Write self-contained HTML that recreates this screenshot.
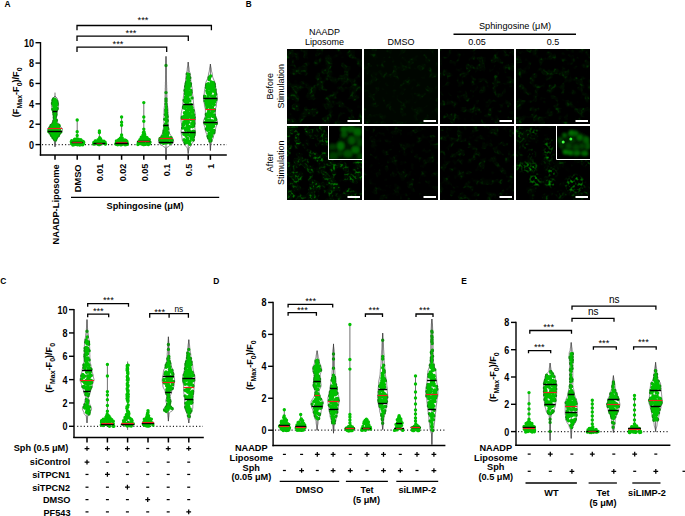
<!DOCTYPE html><html><head><meta charset="utf-8"><style>html,body{margin:0;padding:0;background:#fff;overflow:hidden}svg{display:block}text{font-family:"Liberation Sans",sans-serif}</style></head><body>
<svg width="685" height="516" viewBox="0 0 685 516" font-family="Liberation Sans">
<text transform="translate(4.6 6.9) scale(1 1.04)" font-size="8.4" font-weight="bold" text-anchor="start" fill="#000">A</text>
<line x1="40.5" y1="42.05" x2="40.5" y2="155.65" stroke="#000" stroke-width="1.4"/>
<line x1="35.5" y1="144.6" x2="40.5" y2="144.6" stroke="#000" stroke-width="1.4"/>
<text transform="translate(33.9 148.5) scale(1 1.17)" font-size="9" font-weight="bold" text-anchor="end" fill="#000">0</text>
<line x1="35.5" y1="124.22" x2="40.5" y2="124.22" stroke="#000" stroke-width="1.4"/>
<text transform="translate(33.9 128.12) scale(1 1.17)" font-size="9" font-weight="bold" text-anchor="end" fill="#000">2</text>
<line x1="35.5" y1="103.84" x2="40.5" y2="103.84" stroke="#000" stroke-width="1.4"/>
<text transform="translate(33.9 107.74) scale(1 1.17)" font-size="9" font-weight="bold" text-anchor="end" fill="#000">4</text>
<line x1="35.5" y1="83.46" x2="40.5" y2="83.46" stroke="#000" stroke-width="1.4"/>
<text transform="translate(33.9 87.36) scale(1 1.17)" font-size="9" font-weight="bold" text-anchor="end" fill="#000">6</text>
<line x1="35.5" y1="63.08" x2="40.5" y2="63.08" stroke="#000" stroke-width="1.4"/>
<text transform="translate(33.9 66.98) scale(1 1.17)" font-size="9" font-weight="bold" text-anchor="end" fill="#000">8</text>
<line x1="35.5" y1="42.7" x2="40.5" y2="42.7" stroke="#000" stroke-width="1.4"/>
<text transform="translate(33.9 46.6) scale(1 1.17)" font-size="9" font-weight="bold" text-anchor="end" fill="#000">10</text>
<text transform="translate(19.4 92.3) rotate(-90)" x="0" y="0" font-size="9.1" font-weight="bold" text-anchor="middle">(F<tspan font-size="7" dy="2.5">Max</tspan><tspan dy="-2.5">-F</tspan><tspan font-size="7" dy="2.5">0</tspan><tspan dy="-2.5">)/F</tspan><tspan font-size="7" dy="2.5">0</tspan></text>
<line x1="39.8" y1="155" x2="226.8" y2="155" stroke="#000" stroke-width="1.5"/>
<line x1="55" y1="155" x2="55" y2="159.8" stroke="#000" stroke-width="1.5"/>
<line x1="77.2" y1="155" x2="77.2" y2="159.8" stroke="#000" stroke-width="1.5"/>
<line x1="99.4" y1="155" x2="99.4" y2="159.8" stroke="#000" stroke-width="1.5"/>
<line x1="121.6" y1="155" x2="121.6" y2="159.8" stroke="#000" stroke-width="1.5"/>
<line x1="143.8" y1="155" x2="143.8" y2="159.8" stroke="#000" stroke-width="1.5"/>
<line x1="166" y1="155" x2="166" y2="159.8" stroke="#000" stroke-width="1.5"/>
<line x1="188.2" y1="155" x2="188.2" y2="159.8" stroke="#000" stroke-width="1.5"/>
<line x1="210.4" y1="155" x2="210.4" y2="159.8" stroke="#000" stroke-width="1.5"/>
<text x="59.1" y="164.4" font-size="9.3" font-weight="bold" text-anchor="end" transform="rotate(-90 59.1 164.4)" fill="#000">NAADP-Liposome</text>
<text x="81.3" y="164.4" font-size="9.3" font-weight="bold" text-anchor="end" transform="rotate(-90 81.3 164.4)" fill="#000">DMSO</text>
<text x="103.4" y="163.8" font-size="9" font-weight="bold" text-anchor="end" transform="rotate(-90 103.4 163.8)" fill="#000">0.01</text>
<text x="125.6" y="163.8" font-size="9" font-weight="bold" text-anchor="end" transform="rotate(-90 125.6 163.8)" fill="#000">0.02</text>
<text x="147.8" y="163.8" font-size="9" font-weight="bold" text-anchor="end" transform="rotate(-90 147.8 163.8)" fill="#000">0.05</text>
<text x="170" y="163.8" font-size="9" font-weight="bold" text-anchor="end" transform="rotate(-90 170 163.8)" fill="#000">0.1</text>
<text x="192.2" y="163.8" font-size="9" font-weight="bold" text-anchor="end" transform="rotate(-90 192.2 163.8)" fill="#000">0.5</text>
<text x="214.4" y="163.8" font-size="9" font-weight="bold" text-anchor="end" transform="rotate(-90 214.4 163.8)" fill="#000">1</text>
<line x1="42" y1="144.7" x2="227" y2="144.7" stroke="#222" stroke-width="1.2" stroke-dasharray="1.1 2.2"/>
<line x1="71" y1="197.3" x2="219.2" y2="197.3" stroke="#000" stroke-width="1.3"/>
<text transform="translate(145.1 209.2) scale(1 1.04)" font-size="9.2" font-weight="bold" text-anchor="middle" fill="#000">Sphingosine (μM)</text>
<polyline points="77,30.3 77,25.5 211.4,25.5 211.4,30.3" fill="none" stroke="#000" stroke-width="1.3" stroke-linejoin="miter"/>
<text transform="translate(143 22.9) scale(1 1.04)" font-size="9.3" text-anchor="middle" fill="#000">***</text>
<polyline points="77,41 77,36.2 188.3,36.2 188.3,41" fill="none" stroke="#000" stroke-width="1.3" stroke-linejoin="miter"/>
<text transform="translate(131 35.8) scale(1 1.04)" font-size="9.3" text-anchor="middle" fill="#000">***</text>
<polyline points="77,51.9 77,47.1 166.7,47.1 166.7,51.9" fill="none" stroke="#000" stroke-width="1.3" stroke-linejoin="miter"/>
<text transform="translate(118 46.7) scale(1 1.04)" font-size="9.3" text-anchor="middle" fill="#000">***</text>
<defs><path id="v1" d="M55.0,96.0 L54.0,97.0 L53.0,98.0 L52.7,99.0 L52.3,100.0 L52.0,101.0 L51.9,102.0 L51.7,103.0 L51.5,104.0 L51.4,105.0 L51.5,106.0 L51.7,107.0 L51.9,108.0 L52.0,109.0 L52.3,110.0 L52.7,111.0 L53.0,112.0 L53.0,113.0 L53.1,114.0 L53.2,115.0 L53.4,116.0 L53.5,117.0 L53.5,118.0 L53.3,119.0 L53.0,120.0 L52.7,121.0 L52.5,122.0 L52.1,123.0 L51.2,124.0 L50.4,125.0 L50.0,126.0 L49.4,127.0 L48.1,128.0 L47.5,129.0 L47.6,130.0 L47.8,131.0 L48.2,132.0 L49.1,133.0 L50.1,134.0 L50.5,135.0 L50.9,136.0 L51.8,137.0 L52.6,138.0 L53.0,139.0 L53.5,140.0 L54.3,141.0 L54.4,142.0 L54.5,143.0 L54.7,144.0 L54.8,145.0 L55.0,146.0 L55.0,146.8 L55.0,146.8 L55.0,146.0 L55.2,145.0 L55.3,144.0 L55.5,143.0 L55.6,142.0 L55.7,141.0 L56.5,140.0 L57.0,139.0 L57.4,138.0 L58.2,137.0 L59.1,136.0 L59.5,135.0 L59.9,134.0 L60.9,133.0 L61.8,132.0 L62.2,131.0 L62.4,130.0 L62.5,129.0 L61.9,128.0 L60.6,127.0 L60.0,126.0 L59.6,125.0 L58.8,124.0 L57.9,123.0 L57.5,122.0 L57.3,121.0 L57.0,120.0 L56.7,119.0 L56.5,118.0 L56.5,117.0 L56.6,116.0 L56.8,115.0 L56.9,114.0 L57.0,113.0 L57.0,112.0 L57.3,111.0 L57.7,110.0 L58.0,109.0 L58.1,108.0 L58.3,107.0 L58.5,106.0 L58.6,105.0 L58.5,104.0 L58.3,103.0 L58.1,102.0 L58.0,101.0 L57.7,100.0 L57.3,99.0 L57.0,98.0 L56.0,97.0 L55.0,96.0 Z"/></defs><use href="#v1" fill="#fff"/>
<line x1="55" y1="92.6" x2="55" y2="146.8" stroke="#333" stroke-width="0.7"/>
<path d="M57.0 104.8h0M51.9 131.5h0M54.6 125.8h0M58.9 129.2h0M52.5 103.0h0M54.3 133.2h0M48.7 131.5h0M56.3 124.0h0M57.1 109.0h0M51.5 135.2h0M55.2 99.5h0M54.3 136.8h0M54.6 108.2h0M53.9 99.8h0M55.0 123.8h0M53.8 109.0h0M54.8 108.5h0M53.7 112.5h0M55.5 133.2h0M50.8 129.2h0M55.6 140.0h0M54.0 104.2h0M57.7 130.8h0M54.5 136.5h0M56.6 133.2h0M55.2 113.8h0M57.6 134.8h0M55.8 126.0h0M53.9 100.0h0M54.0 132.2h0M55.3 106.2h0M57.3 130.2h0M54.8 120.0h0M57.4 126.0h0M54.1 126.5h0M51.1 125.5h0M55.9 100.5h0M55.2 139.2h0M53.9 121.2h0M59.1 125.8h0M55.5 131.8h0M52.8 134.0h0M58.9 126.2h0M54.5 127.8h0M55.1 111.2h0M52.9 137.5h0M58.8 132.0h0M56.8 134.8h0M55.2 132.8h0M54.2 127.5h0M56.7 101.2h0M51.5 127.8h0M54.9 126.0h0M54.7 118.5h0M56.2 127.0h0M54.5 128.5h0M53.9 99.8h0M55.5 106.5h0M57.5 134.0h0M58.7 132.2h0M56.3 110.2h0M49.5 129.8h0M53.5 99.0h0M51.9 131.5h0M55.7 103.8h0M54.2 117.2h0M55.2 105.8h0M53.7 106.0h0M54.4 130.5h0M54.9 115.2h0M54.6 99.5h0M53.7 122.8h0M57.2 103.8h0M52.5 126.0h0M59.1 128.5h0M53.4 99.2h0M56.3 105.2h0M56.2 105.8h0M55.6 129.8h0M57.2 108.5h0M55.2 132.2h0M55.7 108.8h0M55.3 121.2h0M55.3 115.0h0M54.1 101.2h0M56.2 138.2h0M55.9 114.0h0M56.0 114.2h0M53.9 131.2h0M53.0 110.0h0M51.4 134.5h0M59.7 133.0h0M51.2 127.8h0M58.8 134.2h0M55.1 130.5h0M54.6 120.2h0M55.9 107.8h0M53.4 123.5h0M55.9 103.5h0M55.0 113.0h0M55.8 115.5h0M51.4 135.2h0M54.1 107.5h0M55.7 139.5h0M54.5 116.8h0M59.4 129.8h0M54.1 136.5h0M56.4 134.8h0M58.9 125.2h0M56.0 109.2h0M53.3 102.5h0M53.0 135.8h0M56.3 131.5h0M53.8 133.5h0M54.6 116.8h0M55.8 134.2h0M56.6 137.5h0M55.3 104.8h0M52.5 103.5h0M56.8 102.0h0M58.8 132.2h0M55.2 117.0h0M53.5 132.0h0M51.8 127.8h0M53.8 102.5h0M55.5 135.0h0M54.7 136.2h0M55.8 111.8h0M50.0 133.0h0M49.6 129.8h0M57.2 104.0h0M53.8 100.5h0M54.8 139.8h0M53.1 104.0h0M56.1 109.5h0M57.2 103.2h0M56.4 120.2h0M53.5 135.5h0M54.9 110.2h0M55.8 103.2h0M52.9 100.2h0M54.5 139.2h0M54.4 128.2h0M54.0 114.5h0M58.3 135.8h0M53.8 138.2h0M55.6 108.2h0M55.1 139.0h0M57.1 130.0h0M55.2 110.5h0M54.4 114.0h0M53.9 102.5h0M54.9 139.2h0M56.9 129.2h0M54.4 136.8h0M54.6 114.0h0M55.8 114.8h0M53.5 135.0h0M55.1 116.2h0M56.1 127.8h0M52.9 109.8h0M53.1 109.8h0M50.6 127.2h0M55.7 102.0h0M55.8 112.8h0M58.0 125.5h0M55.0 105.5h0M50.1 132.2h0M53.5 137.2h0M60.8 132.0h0M53.2 133.0h0M55.1 103.5h0M53.6 136.0h0M52.3 135.0h0M51.6 135.5h0M55.9 114.8h0M59.5 132.5h0M57.3 133.5h0M50.8 130.0h0M53.2 123.5h0M57.2 130.5h0M53.2 110.0h0M56.1 138.0h0M55.4 127.2h0M54.6 133.8h0M54.4 121.2h0M53.3 110.5h0M53.9 129.2h0M50.0 127.8h0M54.4 118.2h0M53.6 104.2h0M54.0 133.0h0M55.4 121.8h0M52.7 109.2h0M55.0 126.5h0" stroke="#00c000" stroke-width="3.4" stroke-linecap="round"/>
<use href="#v1" fill="none" stroke="#333" stroke-width="0.55"/>
<line x1="52.8" y1="111.5" x2="57.2" y2="111.5" stroke="#000" stroke-width="1.45"/>
<line x1="48" y1="131.5" x2="62" y2="131.5" stroke="#000" stroke-width="1.45"/>
<line x1="47.8" y1="128.5" x2="62.2" y2="128.5" stroke="#e8261e" stroke-width="1.15"/>
<line x1="77.2" y1="120" x2="77.2" y2="142" stroke="#333" stroke-width="0.7"/>
<path d="M82.8 144.8h0M74.5 139.5h0M80.1 144.2h0M74.8 143.2h0M78.6 143.0h0M72.8 142.8h0M75.8 142.0h0M83.5 143.5h0M77.7 144.8h0M74.2 142.0h0M74.8 139.2h0M74.8 142.0h0M82.2 141.8h0M78.0 142.5h0M71.7 140.8h0M72.8 141.2h0M83.7 142.2h0M73.1 143.2h0M80.9 144.5h0M82.4 143.5h0M80.9 143.8h0M83.2 141.5h0M73.0 145.0h0M79.9 143.8h0M77.6 142.0h0M82.7 142.2h0M81.5 142.2h0M82.0 141.5h0M76.7 144.5h0M82.6 142.8h0M77.0 143.5h0M75.2 140.8h0M73.0 143.5h0M74.3 144.5h0M74.8 144.5h0M79.8 145.0h0M77.4 142.2h0M78.3 143.2h0M73.6 141.2h0M82.8 142.2h0M71.8 143.0h0M80.0 144.0h0M73.4 144.5h0M71.6 143.8h0M74.3 143.2h0M81.5 140.8h0M77.4 140.0h0M74.0 144.2h0M81.6 140.8h0M80.0 142.0h0M76.5 139.2h0M79.2 140.5h0M80.8 139.8h0M78.4 139.2h0M75.9 139.2h0M72.9 144.0h0M79.4 140.5h0M71.3 141.8h0M72.9 145.0h0M76.4 139.2h0M80.3 143.0h0M75.6 140.0h0M76.9 139.2h0M80.2 143.8h0M80.4 144.5h0M79.8 144.2h0M73.6 142.2h0M74.9 143.2h0M76.7 140.0h0M77.2 120.0h0M77.2 131.8h0M77.2 135.5h0" stroke="#00c000" stroke-width="3.4" stroke-linecap="round"/>
<line x1="71.7" y1="142.5" x2="82.7" y2="142.5" stroke="#000" stroke-width="1.45"/>
<line x1="72.2" y1="142.5" x2="82.2" y2="142.5" stroke="#b02020" stroke-width="1.15"/>
<line x1="99.4" y1="131" x2="99.4" y2="143" stroke="#333" stroke-width="0.7"/>
<path d="M99.7 140.8h0M100.5 141.5h0M94.3 142.8h0M99.7 137.8h0M97.3 140.8h0M99.0 144.5h0M99.1 143.8h0M95.3 143.0h0M103.7 142.8h0M102.2 142.2h0M94.2 143.0h0M100.5 143.5h0M95.2 141.0h0M99.1 144.0h0M104.0 143.2h0M104.5 143.2h0M102.8 141.8h0M104.4 142.0h0M94.3 144.0h0M98.1 139.8h0M98.6 144.5h0M97.1 142.8h0M98.1 142.2h0M100.3 141.5h0M104.1 142.5h0M104.5 143.0h0M105.6 144.0h0M95.4 143.0h0M105.3 144.0h0M100.3 144.2h0M95.9 143.2h0M100.3 143.8h0M95.5 141.0h0M105.6 144.0h0M100.7 139.2h0M95.5 141.8h0M101.8 141.0h0M93.7 144.0h0M94.1 142.8h0M97.4 143.2h0M105.5 144.0h0M105.1 142.2h0M95.2 141.2h0M93.9 142.8h0M98.9 140.2h0M95.4 142.8h0M100.3 138.5h0M103.9 141.2h0M97.8 144.2h0M99.6 142.0h0M100.5 143.0h0M100.8 142.5h0M99.5 144.2h0M101.9 141.8h0M97.8 140.8h0M99.7 144.5h0M93.8 142.5h0M99.4 131.0h0M99.4 132.6h0" stroke="#00c000" stroke-width="3.4" stroke-linecap="round"/>
<line x1="93.4" y1="143.5" x2="105.4" y2="143.5" stroke="#000" stroke-width="1.45"/>
<line x1="96.4" y1="143.5" x2="102.4" y2="143.5" stroke="#8a1a1a" stroke-width="1.15"/>
<line x1="121.6" y1="117" x2="121.6" y2="143" stroke="#333" stroke-width="0.7"/>
<path d="M118.4 140.2h0M117.5 141.5h0M121.1 138.5h0M125.4 144.5h0M118.1 143.5h0M118.8 142.2h0M119.1 139.8h0M124.7 140.0h0M125.5 144.0h0M117.7 143.8h0M122.8 140.8h0M126.1 143.2h0M116.3 144.2h0M123.7 142.8h0M117.6 142.0h0M116.6 141.8h0M126.3 144.5h0M119.1 142.2h0M122.5 144.2h0M126.0 144.2h0M120.5 142.0h0M120.7 142.5h0M120.4 139.5h0M115.8 143.8h0M122.1 138.2h0M121.9 140.8h0M119.7 141.8h0M117.7 144.8h0M118.1 141.5h0M118.8 142.8h0M124.4 141.2h0M122.2 141.0h0M116.5 144.2h0M120.3 138.5h0M123.1 143.5h0M120.3 140.2h0M121.3 139.8h0M122.2 138.0h0M127.4 144.2h0M127.4 143.5h0M121.3 137.5h0M125.1 144.8h0M126.9 141.5h0M125.6 142.8h0M118.6 140.8h0M117.1 141.8h0M126.8 141.2h0M116.4 141.0h0M120.6 138.0h0M119.9 143.8h0M117.7 140.8h0M120.6 144.8h0M118.4 140.0h0M120.3 138.2h0M117.2 143.0h0M121.6 138.0h0M126.0 140.5h0M121.8 139.2h0M120.5 143.5h0M121.3 144.8h0M120.9 140.2h0M121.4 138.0h0M125.0 140.5h0M121.6 117.0h0M121.6 122.3h0M121.6 125.3h0M121.6 135.0h0" stroke="#00c000" stroke-width="3.4" stroke-linecap="round"/>
<line x1="115.1" y1="143.5" x2="128.1" y2="143.5" stroke="#000" stroke-width="1.45"/>
<line x1="116.1" y1="142.5" x2="127.1" y2="142.5" stroke="#a02020" stroke-width="1.15"/>
<line x1="143.8" y1="102.6" x2="143.8" y2="142" stroke="#333" stroke-width="0.7"/>
<path d="M146.8 141.5h0M149.3 143.0h0M149.0 142.5h0M143.8 133.2h0M145.6 144.2h0M139.0 143.8h0M140.7 140.5h0M144.7 141.0h0M143.6 132.5h0M147.4 138.8h0M139.6 142.8h0M139.3 143.0h0M139.2 141.5h0M144.1 132.0h0M141.7 137.8h0M148.4 144.5h0M147.8 138.8h0M146.0 141.0h0M147.0 137.8h0M149.6 142.2h0M141.3 143.8h0M140.3 139.5h0M142.1 136.8h0M144.7 139.0h0M143.9 132.0h0M141.9 139.2h0M143.6 143.2h0M143.6 139.0h0M138.3 142.2h0M137.9 144.5h0M148.1 142.8h0M144.1 132.8h0M144.6 139.5h0M143.4 132.5h0M146.7 137.5h0M145.7 137.8h0M149.3 144.0h0M142.4 139.2h0M147.2 140.8h0M144.5 136.0h0M148.3 143.0h0M144.5 133.8h0M143.4 135.5h0M149.0 141.5h0M147.9 139.2h0M141.5 141.0h0M140.9 139.0h0M143.0 135.0h0M150.0 142.2h0M141.3 137.2h0M144.2 144.5h0M140.7 140.0h0M147.8 141.5h0M142.8 140.2h0M144.7 134.5h0M143.8 133.5h0M139.2 143.2h0M149.4 142.5h0M147.4 141.8h0M143.6 136.0h0M145.4 137.0h0M143.4 138.8h0M148.2 144.5h0M143.2 144.5h0M146.6 140.5h0M141.2 140.5h0M139.9 139.8h0M149.3 139.8h0M145.4 144.2h0M143.8 102.6h0M143.8 117.0h0M143.8 121.3h0M143.8 129.1h0M143.8 131.9h0M143.8 135.1h0" stroke="#00c000" stroke-width="3.4" stroke-linecap="round"/>
<line x1="137.3" y1="141.5" x2="150.3" y2="141.5" stroke="#000" stroke-width="1.45"/>
<line x1="137.8" y1="141.5" x2="149.8" y2="141.5" stroke="#c02020" stroke-width="1.15"/>
<defs><path id="v2" d="M166.0,56.4 L166.0,57.4 L166.0,58.4 L166.0,59.4 L165.9,60.4 L165.9,61.4 L165.9,62.4 L165.8,63.4 L165.8,64.4 L165.8,65.4 L165.8,66.4 L165.7,67.4 L165.7,68.4 L165.7,69.4 L165.7,70.4 L165.7,71.4 L165.7,72.4 L165.7,73.4 L165.7,74.4 L165.6,75.4 L165.6,76.4 L165.6,77.4 L165.6,78.4 L165.5,79.4 L165.5,80.4 L165.5,81.4 L165.4,82.4 L165.4,83.4 L165.4,84.4 L165.3,85.4 L165.3,86.4 L165.3,87.4 L165.2,88.4 L165.2,89.4 L165.2,90.4 L165.1,91.4 L165.1,92.4 L165.1,93.4 L165.1,94.4 L165.0,95.4 L165.0,96.4 L165.0,97.4 L165.0,98.4 L165.0,99.4 L165.0,100.4 L165.0,101.4 L164.9,102.4 L164.8,103.4 L164.6,104.4 L164.5,105.4 L164.4,106.4 L164.3,107.4 L164.1,108.4 L164.1,109.4 L164.0,110.4 L164.0,111.4 L164.0,112.4 L164.0,113.4 L164.0,114.4 L164.0,115.4 L163.9,116.4 L163.9,117.4 L163.9,118.4 L163.9,119.4 L163.9,120.4 L163.8,121.4 L163.8,122.4 L163.8,123.4 L163.8,124.4 L163.8,125.4 L163.7,126.4 L163.6,127.4 L163.4,128.4 L163.2,129.4 L163.1,130.4 L163.0,131.4 L162.9,132.4 L162.4,133.4 L161.7,134.4 L161.1,135.4 L160.9,136.4 L160.1,137.4 L159.2,138.4 L159.0,139.4 L158.6,140.4 L158.4,141.4 L158.7,142.4 L159.3,143.4 L159.9,144.4 L162.2,145.4 L163.3,146.4 L165.1,147.4 L165.7,148.4 L165.7,149.4 L165.8,150.4 L165.9,151.4 L165.9,152.4 L166.0,153.4 L166.0,154.3 L166.0,154.3 L166.0,153.4 L166.1,152.4 L166.1,151.4 L166.2,150.4 L166.3,149.4 L166.3,148.4 L166.9,147.4 L168.7,146.4 L169.8,145.4 L172.1,144.4 L172.7,143.4 L173.3,142.4 L173.6,141.4 L173.4,140.4 L173.0,139.4 L172.8,138.4 L171.9,137.4 L171.1,136.4 L170.9,135.4 L170.3,134.4 L169.6,133.4 L169.1,132.4 L169.0,131.4 L168.9,130.4 L168.8,129.4 L168.6,128.4 L168.4,127.4 L168.3,126.4 L168.2,125.4 L168.2,124.4 L168.2,123.4 L168.2,122.4 L168.2,121.4 L168.1,120.4 L168.1,119.4 L168.1,118.4 L168.1,117.4 L168.1,116.4 L168.0,115.4 L168.0,114.4 L168.0,113.4 L168.0,112.4 L168.0,111.4 L168.0,110.4 L167.9,109.4 L167.9,108.4 L167.7,107.4 L167.6,106.4 L167.5,105.4 L167.4,104.4 L167.2,103.4 L167.1,102.4 L167.0,101.4 L167.0,100.4 L167.0,99.4 L167.0,98.4 L167.0,97.4 L167.0,96.4 L167.0,95.4 L166.9,94.4 L166.9,93.4 L166.9,92.4 L166.9,91.4 L166.8,90.4 L166.8,89.4 L166.8,88.4 L166.7,87.4 L166.7,86.4 L166.7,85.4 L166.6,84.4 L166.6,83.4 L166.6,82.4 L166.5,81.4 L166.5,80.4 L166.5,79.4 L166.4,78.4 L166.4,77.4 L166.4,76.4 L166.4,75.4 L166.3,74.4 L166.3,73.4 L166.3,72.4 L166.3,71.4 L166.3,70.4 L166.3,69.4 L166.3,68.4 L166.3,67.4 L166.2,66.4 L166.2,65.4 L166.2,64.4 L166.2,63.4 L166.1,62.4 L166.1,61.4 L166.1,60.4 L166.0,59.4 L166.0,58.4 L166.0,57.4 L166.0,56.4 Z"/></defs><use href="#v2" fill="#fff"/>
<line x1="166" y1="56.4" x2="166" y2="154.3" stroke="#333" stroke-width="0.7"/>
<path d="M170.1 140.2h0M164.5 133.8h0M166.3 108.0h0M167.4 133.2h0M167.1 129.5h0M166.9 124.8h0M164.9 139.0h0M167.5 135.2h0M166.2 120.5h0M163.0 140.2h0M168.4 140.2h0M163.8 141.0h0M166.7 114.5h0M165.3 140.2h0M165.3 114.5h0M163.8 137.5h0M167.0 142.8h0M166.5 120.8h0M167.7 129.0h0M166.2 142.0h0M168.1 137.5h0M172.1 140.2h0M165.7 110.0h0M164.2 136.8h0M162.4 136.5h0M166.3 141.5h0M166.4 116.0h0M165.0 126.8h0M163.8 133.8h0M167.1 121.2h0M160.1 138.5h0M159.9 140.0h0M167.5 127.8h0M164.2 137.0h0M165.5 129.8h0M167.2 116.5h0M165.8 111.8h0M164.7 139.2h0M163.3 143.2h0M170.1 143.2h0M170.4 138.0h0M167.6 132.5h0M166.2 140.2h0M167.1 133.2h0M164.1 131.0h0M163.1 139.2h0M167.9 134.0h0M164.7 119.2h0M166.2 116.2h0M165.0 129.0h0M168.1 132.8h0M165.7 123.8h0M167.5 141.5h0M165.9 124.5h0M163.9 133.5h0M165.2 129.8h0M163.7 140.2h0M171.1 137.8h0M164.5 142.2h0M164.4 136.8h0M165.9 130.5h0M171.6 140.2h0M164.5 125.8h0M163.9 132.5h0M166.5 110.0h0M166.5 115.5h0M167.8 129.0h0M160.3 141.0h0M167.3 120.5h0M165.3 137.0h0M170.0 140.0h0M165.8 134.0h0M165.7 114.8h0M166.3 117.8h0M162.8 136.8h0M162.0 137.2h0M166.3 115.2h0M168.1 133.0h0M168.0 137.2h0M166.8 116.5h0M166.3 113.8h0M171.2 142.0h0M165.4 141.8h0M169.5 138.5h0M167.1 117.2h0M165.2 142.0h0M165.3 140.0h0M166.7 125.0h0M166.6 112.5h0M163.7 143.2h0M161.1 142.5h0M163.1 141.2h0M165.2 143.0h0M166.0 65.5h0M166.0 92.6h0M166.0 98.9h0M166.0 101.0h0M166.0 104.0h0M166.3 106.4h0" stroke="#00c000" stroke-width="3.4" stroke-linecap="round"/>
<use href="#v2" fill="none" stroke="#333" stroke-width="0.55"/>
<line x1="163.5" y1="125.5" x2="168.5" y2="125.5" stroke="#000" stroke-width="1.45"/>
<line x1="158.8" y1="142.5" x2="173.2" y2="142.5" stroke="#000" stroke-width="1.45"/>
<line x1="159.5" y1="138.5" x2="172.5" y2="138.5" stroke="#e8261e" stroke-width="1.15"/>
<defs><path id="v3" d="M188.2,62.1 L188.2,63.1 L188.0,64.1 L187.9,65.1 L187.7,66.1 L187.5,67.1 L187.3,68.1 L187.2,69.1 L187.2,70.1 L187.0,71.1 L186.7,72.1 L186.3,73.1 L186.2,74.1 L186.1,75.1 L186.0,76.1 L185.9,77.1 L185.7,78.1 L185.6,79.1 L185.6,80.1 L185.6,81.1 L185.4,82.1 L185.3,83.1 L185.1,84.1 L184.9,85.1 L184.7,86.1 L184.5,87.1 L184.3,88.1 L184.2,89.1 L184.2,90.1 L184.2,91.1 L184.1,92.1 L184.0,93.1 L183.8,94.1 L183.7,95.1 L183.5,96.1 L183.4,97.1 L183.3,98.1 L183.2,99.1 L183.2,100.1 L183.1,101.1 L183.0,102.1 L182.9,103.1 L182.7,104.1 L182.7,105.1 L182.6,106.1 L182.5,107.1 L182.4,108.1 L182.2,109.1 L181.9,110.1 L181.7,111.1 L181.5,112.1 L181.3,113.1 L181.2,114.1 L181.2,115.1 L181.2,116.1 L181.1,117.1 L181.1,118.1 L181.0,119.1 L181.0,120.1 L181.1,121.1 L181.2,122.1 L181.4,123.1 L181.5,124.1 L181.7,125.1 L181.7,126.1 L181.6,127.1 L181.5,128.1 L181.4,129.1 L181.2,130.1 L181.1,131.1 L181.1,132.1 L181.2,133.1 L181.3,134.1 L181.5,135.1 L181.7,136.1 L181.9,137.1 L182.0,138.1 L182.2,139.1 L182.2,140.1 L182.6,141.1 L183.3,142.1 L184.2,143.1 L184.9,144.1 L185.2,145.1 L185.7,146.1 L186.6,147.1 L187.3,148.1 L187.4,149.1 L187.6,150.1 L187.8,151.1 L188.0,152.1 L188.2,153.1 L188.2,153.6 L188.2,153.6 L188.2,153.1 L188.4,152.1 L188.6,151.1 L188.8,150.1 L189.0,149.1 L189.1,148.1 L189.8,147.1 L190.7,146.1 L191.2,145.1 L191.5,144.1 L192.2,143.1 L193.1,142.1 L193.8,141.1 L194.2,140.1 L194.2,139.1 L194.4,138.1 L194.5,137.1 L194.7,136.1 L194.9,135.1 L195.1,134.1 L195.2,133.1 L195.3,132.1 L195.3,131.1 L195.2,130.1 L195.0,129.1 L194.9,128.1 L194.8,127.1 L194.7,126.1 L194.7,125.1 L194.9,124.1 L195.0,123.1 L195.2,122.1 L195.3,121.1 L195.4,120.1 L195.4,119.1 L195.3,118.1 L195.3,117.1 L195.2,116.1 L195.2,115.1 L195.2,114.1 L195.1,113.1 L194.9,112.1 L194.7,111.1 L194.5,110.1 L194.2,109.1 L194.0,108.1 L193.9,107.1 L193.8,106.1 L193.7,105.1 L193.7,104.1 L193.5,103.1 L193.4,102.1 L193.3,101.1 L193.2,100.1 L193.2,99.1 L193.1,98.1 L193.0,97.1 L192.9,96.1 L192.7,95.1 L192.6,94.1 L192.4,93.1 L192.3,92.1 L192.2,91.1 L192.2,90.1 L192.2,89.1 L192.1,88.1 L191.9,87.1 L191.7,86.1 L191.5,85.1 L191.3,84.1 L191.1,83.1 L191.0,82.1 L190.8,81.1 L190.8,80.1 L190.8,79.1 L190.7,78.1 L190.5,77.1 L190.4,76.1 L190.3,75.1 L190.2,74.1 L190.1,73.1 L189.7,72.1 L189.4,71.1 L189.2,70.1 L189.2,69.1 L189.1,68.1 L188.9,67.1 L188.7,66.1 L188.5,65.1 L188.4,64.1 L188.2,63.1 L188.2,62.1 Z"/></defs><use href="#v3" fill="#fff"/>
<line x1="188.2" y1="62.1" x2="188.2" y2="153.6" stroke="#333" stroke-width="0.7"/>
<path d="M184.9 105.5h0M183.2 124.0h0M186.5 117.8h0M188.2 82.8h0M187.9 80.0h0M186.2 84.2h0M192.0 111.8h0M186.4 89.8h0M193.7 122.5h0M186.9 120.0h0M185.0 142.8h0M185.7 135.2h0M185.6 91.8h0M191.2 104.5h0M188.8 95.0h0M186.7 123.2h0M182.6 118.5h0M186.9 83.0h0M187.4 125.5h0M189.0 104.8h0M185.8 113.5h0M190.7 131.8h0M188.8 99.8h0M192.9 117.2h0M185.7 128.2h0M185.6 143.0h0M191.2 111.5h0M188.1 92.5h0M188.8 80.2h0M189.1 130.2h0M186.1 136.2h0M189.3 126.5h0M187.6 120.0h0M193.6 134.2h0M190.2 114.5h0M189.1 83.2h0M194.0 123.8h0M185.5 133.2h0M190.0 109.5h0M188.1 77.8h0M185.4 93.8h0M189.4 83.0h0M186.5 90.2h0M192.2 109.8h0M187.9 85.5h0M193.1 118.5h0M192.7 133.2h0M187.4 102.5h0M192.0 107.8h0M184.9 141.2h0M186.2 94.5h0M188.1 99.0h0M185.2 120.5h0M188.0 74.8h0M188.9 108.5h0M190.1 141.0h0M189.7 116.8h0M183.1 125.2h0M191.2 137.8h0M191.6 136.2h0M187.1 110.0h0M189.0 88.0h0M186.2 83.5h0M185.4 97.2h0M183.9 106.5h0M187.3 74.0h0M187.4 87.8h0M189.6 78.2h0M183.8 122.0h0M186.9 100.5h0M184.4 108.2h0M194.1 134.8h0M188.0 114.0h0M186.0 86.0h0M185.9 106.8h0M184.0 133.8h0M189.8 77.8h0M183.8 117.5h0M182.2 118.2h0M194.2 117.5h0M190.5 135.5h0M187.0 101.2h0M190.2 93.8h0M191.7 117.8h0M185.6 106.0h0M194.3 132.8h0M191.8 135.0h0M191.2 133.2h0M188.3 98.5h0M183.5 107.8h0M187.4 78.5h0M189.9 101.0h0M187.7 141.2h0M193.3 140.0h0M186.9 141.2h0M185.9 98.0h0M185.9 96.2h0M193.1 122.5h0M188.0 134.2h0M191.7 124.0h0M189.1 86.0h0M191.2 138.2h0M187.9 129.5h0M190.4 94.8h0M191.1 106.0h0M187.4 142.2h0M193.2 110.5h0M184.3 128.0h0M185.9 90.0h0M191.5 138.0h0M190.4 92.0h0M189.2 143.2h0M188.7 107.2h0M185.0 90.5h0M189.4 142.2h0M193.6 117.2h0M192.6 112.2h0M184.6 133.5h0M186.4 100.5h0M188.9 99.5h0M187.5 101.0h0M190.9 90.5h0M187.8 107.5h0M193.4 120.2h0M193.0 111.5h0M188.6 116.0h0M182.2 117.2h0M184.4 112.8h0M189.0 74.5h0M188.0 94.2h0M188.9 128.2h0M188.4 105.8h0M191.8 118.8h0M188.6 88.2h0M186.3 100.2h0M188.3 130.8h0M191.5 119.2h0M187.6 138.5h0M188.3 121.8h0M190.6 116.5h0M188.6 113.2h0M193.7 114.8h0M192.5 126.8h0M185.7 140.2h0M193.8 119.0h0M183.8 134.2h0M187.8 89.5h0M186.9 84.8h0M189.1 84.8h0M193.2 131.2h0M189.7 92.8h0M184.0 124.5h0M193.4 136.8h0M192.0 98.0h0M188.1 110.2h0M189.9 144.2h0M187.7 93.2h0M186.2 116.8h0M186.8 96.2h0M182.6 128.0h0M187.4 118.8h0M187.6 77.0h0M188.4 122.5h0M190.5 83.8h0M194.1 131.5h0M186.7 88.0h0M189.3 80.2h0M184.9 101.8h0M193.0 111.8h0M185.2 133.2h0M191.1 92.2h0M190.8 119.5h0M185.6 86.5h0M187.3 126.0h0M190.4 84.5h0M191.8 123.0h0M190.2 86.0h0M189.9 84.0h0M186.2 113.5h0M193.6 118.8h0M185.0 101.5h0M184.9 117.2h0M186.0 88.5h0M187.0 81.8h0M186.4 104.8h0M185.6 130.0h0M184.2 116.0h0M183.5 107.0h0M184.1 100.2h0M188.8 128.5h0M188.0 95.8h0M184.1 139.8h0M187.4 133.2h0M192.4 115.8h0M188.3 110.0h0M193.7 126.0h0M191.4 106.8h0M189.8 127.0h0M186.5 110.8h0M186.6 82.2h0M189.4 84.5h0M185.3 100.8h0M190.1 86.0h0M190.2 136.0h0" stroke="#00c000" stroke-width="3.4" stroke-linecap="round"/>
<use href="#v3" fill="none" stroke="#333" stroke-width="0.55"/>
<line x1="183.2" y1="104.5" x2="193.2" y2="104.5" stroke="#000" stroke-width="1.45"/>
<line x1="181.2" y1="132.5" x2="195.2" y2="132.5" stroke="#000" stroke-width="1.45"/>
<line x1="181.1" y1="119.5" x2="195.3" y2="119.5" stroke="#e8261e" stroke-width="1.15"/>
<defs><path id="v4" d="M210.4,64.1 L210.3,65.1 L210.1,66.1 L209.9,67.1 L209.6,68.1 L209.5,69.1 L209.4,70.1 L209.3,71.1 L209.0,72.1 L208.7,73.1 L208.5,74.1 L208.4,75.1 L208.3,76.1 L208.1,77.1 L207.7,78.1 L207.3,79.1 L206.9,80.1 L206.4,81.1 L206.0,82.1 L205.7,83.1 L205.5,84.1 L205.4,85.1 L205.3,86.1 L205.2,87.1 L205.0,88.1 L204.8,89.1 L204.6,90.1 L204.4,91.1 L204.4,92.1 L204.3,93.1 L204.1,94.1 L203.9,95.1 L203.6,96.1 L203.5,97.1 L203.4,98.1 L203.5,99.1 L203.6,100.1 L203.8,101.1 L204.0,102.1 L204.2,103.1 L204.4,104.1 L204.4,105.1 L204.5,106.1 L204.8,107.1 L205.1,108.1 L205.3,109.1 L205.4,110.1 L205.4,111.1 L205.4,112.1 L205.4,113.1 L205.4,114.1 L205.4,115.1 L205.3,116.1 L205.0,117.1 L204.6,118.1 L204.1,119.1 L203.8,120.1 L203.5,121.1 L203.4,122.1 L203.5,123.1 L203.7,124.1 L204.1,125.1 L204.4,126.1 L204.8,127.1 L205.1,128.1 L205.3,129.1 L205.4,130.1 L205.5,131.1 L205.8,132.1 L206.2,133.1 L206.7,134.1 L207.0,135.1 L207.3,136.1 L207.4,137.1 L207.6,138.1 L208.2,139.1 L208.8,140.1 L209.2,141.1 L209.4,142.1 L209.5,143.1 L209.8,144.1 L210.0,145.1 L210.1,146.1 L210.1,147.1 L210.2,148.1 L210.3,149.1 L210.4,150.1 L210.4,150.5 L210.4,150.5 L210.4,150.1 L210.5,149.1 L210.6,148.1 L210.7,147.1 L210.7,146.1 L210.8,145.1 L211.0,144.1 L211.3,143.1 L211.4,142.1 L211.6,141.1 L212.0,140.1 L212.6,139.1 L213.2,138.1 L213.4,137.1 L213.5,136.1 L213.8,135.1 L214.1,134.1 L214.6,133.1 L215.0,132.1 L215.3,131.1 L215.4,130.1 L215.5,129.1 L215.7,128.1 L216.0,127.1 L216.4,126.1 L216.7,125.1 L217.1,124.1 L217.3,123.1 L217.4,122.1 L217.3,121.1 L217.0,120.1 L216.7,119.1 L216.2,118.1 L215.8,117.1 L215.5,116.1 L215.4,115.1 L215.4,114.1 L215.4,113.1 L215.4,112.1 L215.4,111.1 L215.4,110.1 L215.5,109.1 L215.7,108.1 L216.0,107.1 L216.3,106.1 L216.4,105.1 L216.4,104.1 L216.6,103.1 L216.8,102.1 L217.0,101.1 L217.2,100.1 L217.3,99.1 L217.4,98.1 L217.3,97.1 L217.2,96.1 L216.9,95.1 L216.7,94.1 L216.5,93.1 L216.4,92.1 L216.4,91.1 L216.2,90.1 L216.0,89.1 L215.8,88.1 L215.6,87.1 L215.5,86.1 L215.4,85.1 L215.3,84.1 L215.1,83.1 L214.8,82.1 L214.4,81.1 L213.9,80.1 L213.5,79.1 L213.1,78.1 L212.7,77.1 L212.5,76.1 L212.4,75.1 L212.3,74.1 L212.1,73.1 L211.8,72.1 L211.5,71.1 L211.4,70.1 L211.3,69.1 L211.2,68.1 L210.9,67.1 L210.7,66.1 L210.5,65.1 L210.4,64.1 Z"/></defs><use href="#v4" fill="#fff"/>
<line x1="210.4" y1="64.1" x2="210.4" y2="150.5" stroke="#333" stroke-width="0.7"/>
<path d="M215.2 92.5h0M212.2 86.5h0M208.3 83.8h0M210.1 141.0h0M210.0 116.2h0M210.3 104.2h0M213.8 90.5h0M208.2 84.0h0M209.5 78.0h0M214.9 101.8h0M205.8 100.2h0M215.8 94.2h0M211.3 82.0h0M212.3 100.2h0M212.8 98.2h0M211.9 106.8h0M211.1 130.8h0M206.4 87.5h0M210.3 134.2h0M215.0 90.5h0M212.3 112.0h0M208.6 129.5h0M215.0 99.2h0M212.8 87.0h0M212.0 84.5h0M215.6 119.8h0M210.4 127.0h0M206.8 90.8h0M210.5 108.5h0M213.5 82.8h0M212.3 107.2h0M207.7 92.0h0M209.9 76.8h0M209.5 94.8h0M214.4 100.0h0M207.6 130.2h0M206.5 101.0h0M215.0 117.5h0M213.2 91.0h0M204.6 96.2h0M208.5 122.8h0M209.8 89.2h0M209.5 92.8h0M209.5 103.8h0M208.6 112.8h0M206.9 84.5h0M210.6 85.2h0M214.2 99.2h0M212.4 107.2h0M208.6 138.0h0M209.1 77.5h0M211.3 100.5h0M208.6 121.8h0M208.0 136.2h0M207.5 126.5h0M206.3 129.0h0M211.6 136.2h0M210.6 139.2h0M215.1 89.8h0M206.0 103.5h0M210.4 113.8h0M206.8 105.2h0M211.1 86.2h0M206.5 104.2h0M212.8 103.5h0M210.1 120.5h0M208.8 101.0h0M207.2 92.5h0M206.2 103.8h0M212.9 121.0h0M206.3 114.2h0M209.6 99.5h0M214.3 84.2h0M210.4 122.5h0M206.9 120.0h0M210.7 92.8h0M212.2 121.8h0M210.7 76.0h0M212.4 131.2h0M213.9 132.8h0M208.3 92.2h0M214.5 109.8h0M215.7 99.8h0M210.6 127.5h0M214.3 115.0h0M208.0 123.8h0M207.5 127.2h0M215.9 99.8h0M208.6 127.2h0M211.7 96.0h0M212.2 127.0h0M211.9 133.5h0M211.5 125.8h0M209.5 99.5h0M210.7 106.2h0M208.1 126.8h0M212.2 82.5h0M209.5 95.0h0M213.2 85.8h0M208.0 95.0h0M210.4 124.8h0M214.9 95.2h0M208.8 102.0h0M211.8 136.2h0M207.3 122.0h0M211.5 125.2h0M209.0 126.2h0M213.9 123.5h0M212.2 100.8h0M216.3 123.5h0M212.6 132.2h0M211.4 87.2h0M206.0 118.8h0M214.3 104.8h0M213.9 131.0h0M211.3 84.2h0M211.8 128.2h0M204.7 97.2h0M213.2 132.0h0M209.2 117.0h0M213.6 126.2h0M211.6 121.0h0M207.9 97.2h0M208.3 99.2h0M206.9 108.0h0M208.6 120.8h0M208.1 88.5h0M209.6 100.8h0M205.6 123.8h0M208.2 92.2h0M212.9 89.8h0M206.6 85.2h0M212.4 110.5h0M211.0 126.0h0M215.1 97.8h0M210.1 121.5h0M214.1 111.0h0M211.0 140.8h0M208.9 87.0h0M206.7 101.8h0M205.0 122.8h0M211.1 129.8h0M209.7 114.2h0M210.9 133.5h0M214.0 130.5h0M215.7 119.2h0M209.0 106.2h0M210.7 127.0h0M212.6 96.8h0M206.5 105.5h0M210.4 126.8h0M210.6 137.0h0M209.0 133.5h0M210.7 92.0h0M214.4 123.0h0M207.0 116.5h0M205.0 101.0h0M215.8 99.8h0M212.9 98.8h0M207.4 114.8h0M205.8 119.0h0M211.2 90.0h0M214.5 86.5h0M211.8 102.8h0M208.5 136.2h0M209.9 141.0h0M211.7 113.5h0M209.9 138.5h0M211.3 134.2h0M207.0 105.5h0M209.0 93.0h0M208.8 98.5h0M209.0 125.0h0M206.5 115.2h0M212.3 87.5h0M208.8 130.0h0M209.0 79.5h0M208.8 99.2h0M208.7 110.8h0M213.0 116.5h0M213.3 123.8h0M208.4 112.2h0M208.4 127.0h0M209.9 128.0h0M210.4 115.5h0M208.9 117.0h0M212.4 112.0h0M211.6 99.2h0M210.1 104.2h0M211.0 100.5h0M206.6 120.0h0M213.4 87.8h0M212.8 84.0h0M206.9 122.5h0M208.3 115.8h0" stroke="#00c000" stroke-width="3.4" stroke-linecap="round"/>
<use href="#v4" fill="none" stroke="#333" stroke-width="0.55"/>
<line x1="203.4" y1="98.5" x2="217.4" y2="98.5" stroke="#000" stroke-width="1.45"/>
<line x1="203.4" y1="122.5" x2="217.4" y2="122.5" stroke="#000" stroke-width="1.45"/>
<line x1="205.4" y1="109.5" x2="215.4" y2="109.5" stroke="#e8261e" stroke-width="1.15"/>
<text transform="translate(245.7 6.7) scale(1 1.04)" font-size="8.2" font-weight="bold" text-anchor="start" fill="#000">B</text>
<text transform="translate(324.5 34.6) scale(1 1.04)" font-size="9" text-anchor="middle" fill="#000">NAADP</text>
<text transform="translate(324.5 44.8) scale(1 1.04)" font-size="9" text-anchor="middle" fill="#000">Liposome</text>
<text transform="translate(401 45.4) scale(1 1.04)" font-size="9" text-anchor="middle" fill="#000">DMSO</text>
<text transform="translate(477 45.4) scale(1 1.04)" font-size="9" text-anchor="middle" fill="#000">0.05</text>
<text transform="translate(553 45.4) scale(1 1.04)" font-size="9" text-anchor="middle" fill="#000">0.5</text>
<text transform="translate(515 28.8) scale(1 1.04)" font-size="9.2" text-anchor="middle" fill="#000">Sphingosine (μM)</text>
<line x1="453.5" y1="34.2" x2="576" y2="34.2" stroke="#000" stroke-width="1.6"/>
<text transform="translate(273.0 86.3) rotate(-90)" font-size="9" text-anchor="middle">Before</text>
<text transform="translate(283.7 86.3) rotate(-90)" font-size="9" text-anchor="middle">Stimulation</text>
<text transform="translate(273.0 162.8) rotate(-90)" font-size="9" text-anchor="middle">After</text>
<text transform="translate(283.7 162.8) rotate(-90)" font-size="9" text-anchor="middle">Stimulation</text>
<defs>
<filter id="s00" x="0" y="0" width="1" height="1" color-interpolation-filters="sRGB"><feTurbulence type="fractalNoise" baseFrequency="0.37" numOctaves="1" seed="1" result="n1"/><feTurbulence type="fractalNoise" baseFrequency="0.12" numOctaves="2" seed="12" result="n2"/><feColorMatrix in="n1" type="matrix" values="4 0 0 0 -2 0 0 0 0 0 0 0 0 0 0 0 0 0 0 1" result="a0"/><feColorMatrix in="n2" type="matrix" values="5 0 0 0 -2.4 0 0 0 0 0 0 0 0 0 0 0 0 0 0 1" result="b0"/><feComposite in="a0" in2="b0" operator="arithmetic" k1="0.18" k2="0" k3="0.05" k4="0" result="m"/><feColorMatrix in="m" type="matrix" values="0 0 0 0 0 0.23 0 0 0 0.0 0 0 0 0 0 0 0 0 0 1" result="c"/><feGaussianBlur in="c" stdDeviation="0.55"/></filter>
<filter id="s01" x="0" y="0" width="1" height="1" color-interpolation-filters="sRGB"><feTurbulence type="fractalNoise" baseFrequency="0.37" numOctaves="1" seed="2" result="n1"/><feTurbulence type="fractalNoise" baseFrequency="0.14" numOctaves="2" seed="13" result="n2"/><feColorMatrix in="n1" type="matrix" values="4 0 0 0 -2 0 0 0 0 0 0 0 0 0 0 0 0 0 0 1" result="a0"/><feColorMatrix in="n2" type="matrix" values="5 0 0 0 -2.6 0 0 0 0 0 0 0 0 0 0 0 0 0 0 1" result="b0"/><feComposite in="a0" in2="b0" operator="arithmetic" k1="0.13" k2="0" k3="0.03" k4="0" result="m"/><feColorMatrix in="m" type="matrix" values="0 0 0 0 0 0.16 0 0 0 0.025 0 0 0 0 0 0 0 0 0 1" result="c"/><feGaussianBlur in="c" stdDeviation="0.55"/></filter>
<filter id="s02" x="0" y="0" width="1" height="1" color-interpolation-filters="sRGB"><feTurbulence type="fractalNoise" baseFrequency="0.37" numOctaves="1" seed="3" result="n1"/><feTurbulence type="fractalNoise" baseFrequency="0.14" numOctaves="2" seed="14" result="n2"/><feColorMatrix in="n1" type="matrix" values="4 0 0 0 -2 0 0 0 0 0 0 0 0 0 0 0 0 0 0 1" result="a0"/><feColorMatrix in="n2" type="matrix" values="5 0 0 0 -2.55 0 0 0 0 0 0 0 0 0 0 0 0 0 0 1" result="b0"/><feComposite in="a0" in2="b0" operator="arithmetic" k1="0.16" k2="0" k3="0.045" k4="0" result="m"/><feColorMatrix in="m" type="matrix" values="0 0 0 0 0 0.21 0 0 0 0.0 0 0 0 0 0 0 0 0 0 1" result="c"/><feGaussianBlur in="c" stdDeviation="0.55"/></filter>
<filter id="s03" x="0" y="0" width="1" height="1" color-interpolation-filters="sRGB"><feTurbulence type="fractalNoise" baseFrequency="0.37" numOctaves="1" seed="4" result="n1"/><feTurbulence type="fractalNoise" baseFrequency="0.13" numOctaves="2" seed="15" result="n2"/><feColorMatrix in="n1" type="matrix" values="4 0 0 0 -2 0 0 0 0 0 0 0 0 0 0 0 0 0 0 1" result="a0"/><feColorMatrix in="n2" type="matrix" values="5 0 0 0 -2.55 0 0 0 0 0 0 0 0 0 0 0 0 0 0 1" result="b0"/><feComposite in="a0" in2="b0" operator="arithmetic" k1="0.17" k2="0" k3="0.05" k4="0" result="m"/><feColorMatrix in="m" type="matrix" values="0 0 0 0 0 0.22 0 0 0 0.0 0 0 0 0 0 0 0 0 0 1" result="c"/><feGaussianBlur in="c" stdDeviation="0.55"/></filter>
<filter id="s10" x="0" y="0" width="1" height="1" color-interpolation-filters="sRGB"><feTurbulence type="fractalNoise" baseFrequency="0.42" numOctaves="1" seed="5" result="n1"/><feTurbulence type="fractalNoise" baseFrequency="0.11" numOctaves="2" seed="16" result="n2"/><feColorMatrix in="n1" type="matrix" values="5 0 0 0 -2.5 0 0 0 0 0 0 0 0 0 0 0 0 0 0 1" result="a0"/><feColorMatrix in="n2" type="matrix" values="4 0 0 0 -1.68 0 0 0 0 0 0 0 0 0 0 0 0 0 0 1" result="b0"/><feComposite in="a0" in2="b0" operator="arithmetic" k1="0.36" k2="0" k3="0.07" k4="0" result="m"/><feColorMatrix in="m" type="matrix" values="0 0 0 0 0 0.43 0 0 0 0.0 0 0 0 0 0 0 0 0 0 1" result="c"/><feGaussianBlur in="c" stdDeviation="0.55"/></filter>
<filter id="s11" x="0" y="0" width="1" height="1" color-interpolation-filters="sRGB"><feTurbulence type="fractalNoise" baseFrequency="0.37" numOctaves="1" seed="6" result="n1"/><feTurbulence type="fractalNoise" baseFrequency="0.14" numOctaves="2" seed="17" result="n2"/><feColorMatrix in="n1" type="matrix" values="4 0 0 0 -2 0 0 0 0 0 0 0 0 0 0 0 0 0 0 1" result="a0"/><feColorMatrix in="n2" type="matrix" values="5 0 0 0 -2.6 0 0 0 0 0 0 0 0 0 0 0 0 0 0 1" result="b0"/><feComposite in="a0" in2="b0" operator="arithmetic" k1="0.14" k2="0" k3="0.035" k4="0" result="m"/><feColorMatrix in="m" type="matrix" values="0 0 0 0 0 0.18 0 0 0 0.0 0 0 0 0 0 0 0 0 0 1" result="c"/><feGaussianBlur in="c" stdDeviation="0.55"/></filter>
<filter id="s12" x="0" y="0" width="1" height="1" color-interpolation-filters="sRGB"><feTurbulence type="fractalNoise" baseFrequency="0.37" numOctaves="1" seed="7" result="n1"/><feTurbulence type="fractalNoise" baseFrequency="0.14" numOctaves="2" seed="18" result="n2"/><feColorMatrix in="n1" type="matrix" values="4 0 0 0 -2 0 0 0 0 0 0 0 0 0 0 0 0 0 0 1" result="a0"/><feColorMatrix in="n2" type="matrix" values="5 0 0 0 -2.55 0 0 0 0 0 0 0 0 0 0 0 0 0 0 1" result="b0"/><feComposite in="a0" in2="b0" operator="arithmetic" k1="0.16" k2="0" k3="0.045" k4="0" result="m"/><feColorMatrix in="m" type="matrix" values="0 0 0 0 0 0.21 0 0 0 0.0 0 0 0 0 0 0 0 0 0 1" result="c"/><feGaussianBlur in="c" stdDeviation="0.55"/></filter>
<filter id="s13" x="0" y="0" width="1" height="1" color-interpolation-filters="sRGB"><feTurbulence type="fractalNoise" baseFrequency="0.37" numOctaves="1" seed="8" result="n1"/><feTurbulence type="fractalNoise" baseFrequency="0.07" numOctaves="2" seed="19" result="n2"/><feColorMatrix in="n1" type="matrix" values="4 0 0 0 -2.08 0 0 0 0 0 0 0 0 0 0 0 0 0 0 1" result="a0"/><feColorMatrix in="n2" type="matrix" values="6 0 0 0 -3.12 0 0 0 0 0 0 0 0 0 0 0 0 0 0 1" result="b0"/><feComposite in="a0" in2="b0" operator="arithmetic" k1="0.7" k2="0" k3="0.1" k4="0" result="m"/><feColorMatrix in="m" type="matrix" values="0 0 0 0 0 0.8 0 0 0 0.0 0 0 0 0 0 0 0 0 0 1" result="c"/><feGaussianBlur in="c" stdDeviation="0.55"/></filter>
<filter id="b1" x="0" y="0" width="1" height="1" color-interpolation-filters="sRGB"><feTurbulence type="fractalNoise" baseFrequency="0.11" numOctaves="2" seed="21" result="n1"/><feColorMatrix in="n1" type="matrix" values="0 0 0 0 0 1.1 0 0 0 -0.31 0 0 0 0 0 0 0 0 0 1" result="c"/><feGaussianBlur in="c" stdDeviation="0.7"/></filter>
<filter id="b2" x="0" y="0" width="1" height="1" color-interpolation-filters="sRGB"><feTurbulence type="fractalNoise" baseFrequency="0.12" numOctaves="2" seed="22" result="n1"/><feColorMatrix in="n1" type="matrix" values="0 0 0 0 0 2.0 0 0 0 -0.84 0 0 0 0 0 0 0 0 0 1" result="c"/><feGaussianBlur in="c" stdDeviation="0.7"/></filter>
</defs>
<defs><filter id="mb" x="-0.3" y="-0.3" width="1.6" height="1.6"><feGaussianBlur stdDeviation="1.5"/></filter><mask id="m24" maskUnits="userSpaceOnUse" x="516" y="126" width="74" height="74"><g filter="url(#mb)"><ellipse cx="519" cy="132" rx="3" ry="4.5" fill="#fff" fill-opacity="0.8"/><ellipse cx="533.5" cy="131" rx="4.5" ry="3.5" fill="#fff" fill-opacity="0.8"/><ellipse cx="517.5" cy="140" rx="1.5" ry="2" fill="#fff" fill-opacity="0.6"/><ellipse cx="525.3" cy="145.9" rx="2" ry="2" fill="#fff" fill-opacity="1"/><ellipse cx="531.7" cy="154" rx="2.8" ry="4.5" fill="#fff" fill-opacity="0.85"/><ellipse cx="548.7" cy="149.5" rx="5" ry="11" fill="#fff" fill-opacity="0.8"/><ellipse cx="527" cy="167" rx="11" ry="4.5" fill="#fff" fill-opacity="1"/><ellipse cx="535" cy="180.5" rx="5.5" ry="6.5" fill="#fff" fill-opacity="1"/><ellipse cx="551.7" cy="171.5" rx="5.5" ry="4.5" fill="#fff" fill-opacity="0.9"/><ellipse cx="551" cy="183" rx="3.5" ry="4.5" fill="#fff" fill-opacity="1"/><ellipse cx="575" cy="184.5" rx="9.5" ry="9" fill="#fff" fill-opacity="1"/><ellipse cx="587.5" cy="163.3" rx="2.5" ry="3" fill="#fff" fill-opacity="0.8"/><ellipse cx="560" cy="195" rx="3.5" ry="3" fill="#fff" fill-opacity="0.5"/></g></mask><filter id="sp24" x="0" y="0" width="1" height="1" color-interpolation-filters="sRGB"><feTurbulence type="fractalNoise" baseFrequency="0.37" numOctaves="1" seed="18"/><feColorMatrix type="matrix" values="0 0 0 0 0 3.2 0 0 0 -1.5 0 0 0 0 0 0 0 0 0 1" result="c"/><feGaussianBlur in="c" stdDeviation="0.5"/></filter></defs>
<rect x="287" y="49" width="75" height="75" fill="#000"/>
<rect x="287" y="49" width="75" height="75" filter="url(#s00)"/>
<rect x="347.5" y="120" width="12.5" height="2" fill="#fff"/>
<rect x="364" y="49" width="74" height="75" fill="#000"/>
<rect x="364" y="49" width="74" height="75" filter="url(#s01)"/>
<rect x="423.5" y="120" width="12.5" height="2" fill="#fff"/>
<rect x="440" y="49" width="74" height="75" fill="#000"/>
<rect x="440" y="49" width="74" height="75" filter="url(#s02)"/>
<rect x="499.5" y="120" width="12.5" height="2" fill="#fff"/>
<rect x="516" y="49" width="74" height="75" fill="#000"/>
<rect x="516" y="49" width="74" height="75" filter="url(#s03)"/>
<rect x="575.5" y="120" width="12.5" height="2" fill="#fff"/>
<rect x="287" y="126" width="75" height="74" fill="#000"/>
<rect x="287" y="126" width="75" height="74" filter="url(#s10)"/>
<rect x="347.5" y="196" width="12.5" height="2" fill="#fff"/>
<rect x="364" y="126" width="74" height="74" fill="#000"/>
<rect x="364" y="126" width="74" height="74" filter="url(#s11)"/>
<rect x="423.5" y="196" width="12.5" height="2" fill="#fff"/>
<rect x="440" y="126" width="74" height="74" fill="#000"/>
<rect x="440" y="126" width="74" height="74" filter="url(#s12)"/>
<rect x="499.5" y="196" width="12.5" height="2" fill="#fff"/>
<rect x="516" y="126" width="74" height="74" fill="#000"/>
<rect x="516" y="126" width="74" height="74" filter="url(#sp24)" mask="url(#m24)"/>
<rect x="516" y="126" width="74" height="74" filter="url(#s13)" opacity="0.35"/>
<rect x="575.5" y="196" width="12.5" height="2" fill="#fff"/>
<defs><filter id="bl1" x="-0.2" y="-0.2" width="1.4" height="1.4"><feGaussianBlur stdDeviation="1.0"/></filter><filter id="bl2" x="-0.5" y="-0.5" width="2" height="2"><feGaussianBlur stdDeviation="0.6"/></filter><clipPath id="ci1"><rect x="328" y="126" width="34" height="33.5"/></clipPath><clipPath id="ci2"><rect x="556.5" y="126" width="33.5" height="33.5"/></clipPath></defs>
<rect x="328" y="126" width="34" height="33.5" fill="#000"/>
<g clip-path="url(#ci1)"><g filter="url(#bl1)">
<path d="M342,126 L362,126 L362,160 L328,160 L328,147 Q341,144 342,126Z" fill="rgb(0,22,0)"/>
<ellipse cx="343.7" cy="129.2" rx="3.5" ry="3" fill="rgb(0,90,0)"/>
<ellipse cx="351" cy="128.8" rx="4" ry="3.5" fill="rgb(0,85,0)"/>
<ellipse cx="357.7" cy="132.1" rx="4" ry="4" fill="rgb(0,100,0)"/>
<ellipse cx="344" cy="134.3" rx="3" ry="3" fill="rgb(0,80,0)"/>
<ellipse cx="351.8" cy="140.2" rx="3.5" ry="4" fill="rgb(0,85,0)"/>
<ellipse cx="340.7" cy="146.1" rx="3.5" ry="4" fill="rgb(0,105,0)"/>
<ellipse cx="332.4" cy="146.4" rx="4" ry="3" fill="rgb(0,55,0)"/>
<ellipse cx="355.5" cy="149.8" rx="4" ry="3.5" fill="rgb(0,100,0)"/>
<ellipse cx="348" cy="153.5" rx="4.5" ry="3.5" fill="rgb(0,80,0)"/>
<ellipse cx="333.4" cy="155.7" rx="4.5" ry="3.5" fill="rgb(0,60,0)"/>
<ellipse cx="359.9" cy="142.4" rx="3" ry="4" fill="rgb(0,65,0)"/>
<ellipse cx="357" cy="138" rx="3" ry="3" fill="rgb(0,55,0)"/>
<ellipse cx="340" cy="153" rx="3" ry="3" fill="rgb(0,55,0)"/>
<ellipse cx="360" cy="156" rx="3" ry="3" fill="rgb(0,60,0)"/>
</g>
</g>
<polyline points="328.5,126 328.5,159.5 362,159.5" fill="none" stroke="#fff" stroke-width="1"/>
<rect x="556" y="126" width="34" height="33.5" fill="#000"/>
<g clip-path="url(#ci2)"><g filter="url(#bl1)">
<ellipse cx="575" cy="144" rx="15" ry="12.5" fill="rgb(0,30,0)"/>
<ellipse cx="564.3" cy="135" rx="2.3" ry="2.3" fill="rgb(0,95,0)"/>
<ellipse cx="571.7" cy="132.8" rx="3.2" ry="2.8" fill="rgb(0,110,0)"/>
<ellipse cx="575.4" cy="133.2" rx="2.6" ry="2.6" fill="rgb(0,95,0)"/>
<ellipse cx="579.8" cy="137.6" rx="2.8" ry="2.8" fill="rgb(0,100,0)"/>
<ellipse cx="586.4" cy="139.8" rx="3" ry="3.5" fill="rgb(0,90,0)"/>
<ellipse cx="587.9" cy="145.9" rx="2.6" ry="3.5" fill="rgb(0,80,0)"/>
<ellipse cx="565.8" cy="152.3" rx="3.2" ry="2.3" fill="rgb(0,120,0)"/>
<ellipse cx="570.2" cy="152.7" rx="2.8" ry="2.3" fill="rgb(0,110,0)"/>
<ellipse cx="576.8" cy="153.1" rx="3.2" ry="2.3" fill="rgb(0,100,0)"/>
<ellipse cx="584.9" cy="153.5" rx="3.5" ry="2.6" fill="rgb(0,100,0)"/>
<ellipse cx="559.9" cy="140.2" rx="2.5" ry="3.5" fill="rgb(0,65,0)"/>
<ellipse cx="568.7" cy="146.1" rx="3" ry="3" fill="rgb(0,65,0)"/>
<ellipse cx="576.1" cy="147.6" rx="3" ry="3" fill="rgb(0,65,0)"/>
<ellipse cx="582" cy="146" rx="2.6" ry="2.6" fill="rgb(0,60,0)"/>
<ellipse cx="572" cy="140" rx="2.6" ry="2.6" fill="rgb(0,55,0)"/>
<ellipse cx="561" cy="146" rx="2.5" ry="2.5" fill="rgb(0,50,0)"/>
</g>
<g filter="url(#bl2)"><circle cx="563.2" cy="142" r="1.5" fill="#4f4"/><circle cx="570.8" cy="139.1" r="1.5" fill="#3f3"/></g>
</g>
<polyline points="556.5,126 556.5,159.5 590,159.5" fill="none" stroke="#fff" stroke-width="1"/>
<text transform="translate(0.2 284) scale(1 1.04)" font-size="8.4" font-weight="bold" text-anchor="start" fill="#000">C</text>
<line x1="74" y1="308.95" x2="74" y2="438.05" stroke="#000" stroke-width="1.4"/>
<line x1="69" y1="426.3" x2="74" y2="426.3" stroke="#000" stroke-width="1.4"/>
<text transform="translate(67.4 430.2) scale(1 1.17)" font-size="9" font-weight="bold" text-anchor="end" fill="#000">0</text>
<line x1="69" y1="402.96" x2="74" y2="402.96" stroke="#000" stroke-width="1.4"/>
<text transform="translate(67.4 406.86) scale(1 1.17)" font-size="9" font-weight="bold" text-anchor="end" fill="#000">2</text>
<line x1="69" y1="379.62" x2="74" y2="379.62" stroke="#000" stroke-width="1.4"/>
<text transform="translate(67.4 383.52) scale(1 1.17)" font-size="9" font-weight="bold" text-anchor="end" fill="#000">4</text>
<line x1="69" y1="356.28" x2="74" y2="356.28" stroke="#000" stroke-width="1.4"/>
<text transform="translate(67.4 360.18) scale(1 1.17)" font-size="9" font-weight="bold" text-anchor="end" fill="#000">6</text>
<line x1="69" y1="332.94" x2="74" y2="332.94" stroke="#000" stroke-width="1.4"/>
<text transform="translate(67.4 336.84) scale(1 1.17)" font-size="9" font-weight="bold" text-anchor="end" fill="#000">8</text>
<line x1="69" y1="309.6" x2="74" y2="309.6" stroke="#000" stroke-width="1.4"/>
<text transform="translate(67.4 313.5) scale(1 1.17)" font-size="9" font-weight="bold" text-anchor="end" fill="#000">10</text>
<text transform="translate(52.1 367.8) rotate(-90)" x="0" y="0" font-size="9.1" font-weight="bold" text-anchor="middle">(F<tspan font-size="7" dy="2.5">Max</tspan><tspan dy="-2.5">-F</tspan><tspan font-size="7" dy="2.5">0</tspan><tspan dy="-2.5">)/F</tspan><tspan font-size="7" dy="2.5">0</tspan></text>
<line x1="73.3" y1="437.4" x2="203.8" y2="437.4" stroke="#000" stroke-width="1.5"/>
<line x1="87" y1="437.4" x2="87" y2="442.5" stroke="#000" stroke-width="1.5"/>
<line x1="107.4" y1="437.4" x2="107.4" y2="442.5" stroke="#000" stroke-width="1.5"/>
<line x1="127.6" y1="437.4" x2="127.6" y2="442.5" stroke="#000" stroke-width="1.5"/>
<line x1="148" y1="437.4" x2="148" y2="442.5" stroke="#000" stroke-width="1.5"/>
<line x1="168.4" y1="437.4" x2="168.4" y2="442.5" stroke="#000" stroke-width="1.5"/>
<line x1="188.8" y1="437.4" x2="188.8" y2="442.5" stroke="#000" stroke-width="1.5"/>
<line x1="77.2" y1="426.3" x2="203" y2="426.3" stroke="#222" stroke-width="1.2" stroke-dasharray="1.1 2.2"/>
<text transform="translate(68.3 450.9) scale(1 1.04)" font-size="9.2" font-weight="bold" text-anchor="end" fill="#000">Sph (0.5 μM)</text>
<path d="M84.6 448.5h4.8M87 446.15v4.7" stroke="#000" stroke-width="1.25"/>
<path d="M105 448.5h4.8M107.4 446.15v4.7" stroke="#000" stroke-width="1.25"/>
<path d="M125 448.5h4.8M127.4 446.15v4.7" stroke="#000" stroke-width="1.25"/>
<path d="M146.2 448.5h3" stroke="#000" stroke-width="1.25"/>
<path d="M165.8 448.5h4.8M168.2 446.15v4.7" stroke="#000" stroke-width="1.25"/>
<path d="M186.3 448.5h4.8M188.7 446.15v4.7" stroke="#000" stroke-width="1.25"/>
<text transform="translate(70.2 464.8) scale(1 1.04)" font-size="9.2" font-weight="bold" text-anchor="end" fill="#000">siControl</text>
<path d="M84.6 462.15h4.8M87 459.8v4.7" stroke="#000" stroke-width="1.25"/>
<path d="M105.9 462.15h3" stroke="#000" stroke-width="1.25"/>
<path d="M125.9 462.15h3" stroke="#000" stroke-width="1.25"/>
<path d="M146.2 462.15h3" stroke="#000" stroke-width="1.25"/>
<path d="M166.7 462.15h3" stroke="#000" stroke-width="1.25"/>
<path d="M187.2 462.15h3" stroke="#000" stroke-width="1.25"/>
<text transform="translate(70 477.8) scale(1 1.04)" font-size="9.2" font-weight="bold" text-anchor="end" fill="#000">siTPCN1</text>
<path d="M85.5 474.45h3" stroke="#000" stroke-width="1.25"/>
<path d="M105 474.45h4.8M107.4 472.1v4.7" stroke="#000" stroke-width="1.25"/>
<path d="M125.9 474.45h3" stroke="#000" stroke-width="1.25"/>
<path d="M146.2 474.45h3" stroke="#000" stroke-width="1.25"/>
<path d="M166.7 474.45h3" stroke="#000" stroke-width="1.25"/>
<path d="M187.2 474.45h3" stroke="#000" stroke-width="1.25"/>
<text transform="translate(70 490.8) scale(1 1.04)" font-size="9.2" font-weight="bold" text-anchor="end" fill="#000">siTPCN2</text>
<path d="M85.5 487.2h3" stroke="#000" stroke-width="1.25"/>
<path d="M105.9 487.2h3" stroke="#000" stroke-width="1.25"/>
<path d="M125 487.2h4.8M127.4 484.85v4.7" stroke="#000" stroke-width="1.25"/>
<path d="M146.2 487.2h3" stroke="#000" stroke-width="1.25"/>
<path d="M166.7 487.2h3" stroke="#000" stroke-width="1.25"/>
<path d="M187.2 487.2h3" stroke="#000" stroke-width="1.25"/>
<text transform="translate(70.5 502.9) scale(1 1.04)" font-size="9.2" font-weight="bold" text-anchor="end" fill="#000">DMSO</text>
<path d="M85.5 499.6h3" stroke="#000" stroke-width="1.25"/>
<path d="M105.9 499.6h3" stroke="#000" stroke-width="1.25"/>
<path d="M125.9 499.6h3" stroke="#000" stroke-width="1.25"/>
<path d="M145.3 499.6h4.8M147.7 497.25v4.7" stroke="#000" stroke-width="1.25"/>
<path d="M166.7 499.6h3" stroke="#000" stroke-width="1.25"/>
<path d="M187.2 499.6h3" stroke="#000" stroke-width="1.25"/>
<text transform="translate(70.5 515.6) scale(1 1.04)" font-size="9.2" font-weight="bold" text-anchor="end" fill="#000">PF543</text>
<path d="M85.5 511.9h3" stroke="#000" stroke-width="1.25"/>
<path d="M105.9 511.9h3" stroke="#000" stroke-width="1.25"/>
<path d="M125.9 511.9h3" stroke="#000" stroke-width="1.25"/>
<path d="M146.2 511.9h3" stroke="#000" stroke-width="1.25"/>
<path d="M166.7 511.9h3" stroke="#000" stroke-width="1.25"/>
<path d="M186.3 511.9h4.8M188.7 509.55v4.7" stroke="#000" stroke-width="1.25"/>
<polyline points="87.7,306.8 87.7,303.6 128.5,303.6 128.5,306.8" fill="none" stroke="#000" stroke-width="1.3" stroke-linejoin="miter"/>
<text transform="translate(108.4 303.4) scale(1 1.04)" font-size="9.3" text-anchor="middle" fill="#000">***</text>
<polyline points="87.7,317.3 87.7,314.1 108.7,314.1 108.7,317.3" fill="none" stroke="#000" stroke-width="1.3" stroke-linejoin="miter"/>
<text transform="translate(98.3 314.2) scale(1 1.04)" font-size="9.3" text-anchor="middle" fill="#000">***</text>
<polyline points="149.7,317.8 149.7,313.7 169.1,313.7 169.1,317.8" fill="none" stroke="#000" stroke-width="1.3" stroke-linejoin="miter"/>
<text transform="translate(159.6 314.7) scale(1 1.04)" font-size="9.3" text-anchor="middle" fill="#000">***</text>
<polyline points="169.1,313.7 188.4,313.7 188.4,317.8" fill="none" stroke="#000" stroke-width="1.3" stroke-linejoin="miter"/>
<text transform="translate(178.8 312.2) scale(1 1.04)" font-size="8.3" text-anchor="middle" fill="#000">ns</text>
<defs><path id="v5" d="M87.0,319.6 L87.0,320.6 L86.9,321.6 L86.9,322.6 L86.8,323.6 L86.7,324.6 L86.6,325.6 L86.6,326.6 L86.5,327.6 L86.4,328.6 L86.4,329.6 L86.4,330.6 L86.2,331.6 L86.0,332.6 L85.8,333.6 L85.6,334.6 L85.5,335.6 L85.5,336.6 L85.4,337.6 L85.2,338.6 L85.0,339.6 L84.7,340.6 L84.6,341.6 L84.5,342.6 L84.5,343.6 L84.5,344.6 L84.4,345.6 L84.4,346.6 L84.3,347.6 L84.3,348.6 L84.3,349.6 L84.2,350.6 L84.2,351.6 L84.2,352.6 L84.2,353.6 L84.2,354.6 L84.1,355.6 L84.1,356.6 L84.1,357.6 L84.0,358.6 L84.0,359.6 L84.0,360.6 L84.0,361.6 L83.8,362.6 L83.5,363.6 L83.2,364.6 L83.0,365.6 L83.0,366.6 L82.7,367.6 L82.4,368.6 L82.1,369.6 L82.0,370.6 L81.9,371.6 L81.6,372.6 L81.3,373.6 L80.9,374.6 L80.7,375.6 L80.7,376.6 L80.5,377.6 L80.2,378.6 L80.0,379.6 L80.1,380.6 L80.4,381.6 L80.8,382.6 L81.2,383.6 L81.5,384.6 L81.6,385.6 L81.8,386.6 L82.3,387.6 L82.8,388.6 L83.2,389.6 L83.5,390.6 L83.5,391.6 L83.8,392.6 L84.2,393.6 L84.7,394.6 L85.1,395.6 L85.4,396.6 L85.5,397.6 L85.4,398.6 L85.2,399.6 L84.9,400.6 L84.7,401.6 L84.5,402.6 L84.4,403.6 L84.1,404.6 L83.7,405.6 L83.1,406.6 L82.7,407.6 L82.4,408.6 L82.5,409.6 L83.0,410.6 L83.5,411.6 L84.0,412.6 L84.1,413.6 L84.8,414.6 L85.7,415.6 L86.3,416.6 L86.4,417.6 L86.5,418.6 L86.6,419.6 L86.8,420.6 L86.9,421.6 L87.0,422.6 L87.0,422.9 L87.0,422.9 L87.0,422.6 L87.1,421.6 L87.2,420.6 L87.4,419.6 L87.5,418.6 L87.6,417.6 L87.7,416.6 L88.3,415.6 L89.2,414.6 L89.9,413.6 L90.0,412.6 L90.5,411.6 L91.0,410.6 L91.5,409.6 L91.6,408.6 L91.3,407.6 L90.9,406.6 L90.3,405.6 L89.9,404.6 L89.6,403.6 L89.5,402.6 L89.3,401.6 L89.1,400.6 L88.8,399.6 L88.6,398.6 L88.5,397.6 L88.6,396.6 L88.9,395.6 L89.3,394.6 L89.8,393.6 L90.2,392.6 L90.5,391.6 L90.5,390.6 L90.8,389.6 L91.2,388.6 L91.7,387.6 L92.2,386.6 L92.4,385.6 L92.5,384.6 L92.8,383.6 L93.2,382.6 L93.6,381.6 L93.9,380.6 L94.0,379.6 L93.8,378.6 L93.5,377.6 L93.3,376.6 L93.3,375.6 L93.1,374.6 L92.7,373.6 L92.4,372.6 L92.1,371.6 L92.0,370.6 L91.9,369.6 L91.6,368.6 L91.3,367.6 L91.0,366.6 L91.0,365.6 L90.8,364.6 L90.5,363.6 L90.2,362.6 L90.0,361.6 L90.0,360.6 L90.0,359.6 L90.0,358.6 L89.9,357.6 L89.9,356.6 L89.9,355.6 L89.8,354.6 L89.8,353.6 L89.8,352.6 L89.8,351.6 L89.8,350.6 L89.7,349.6 L89.7,348.6 L89.7,347.6 L89.6,346.6 L89.6,345.6 L89.5,344.6 L89.5,343.6 L89.5,342.6 L89.4,341.6 L89.3,340.6 L89.0,339.6 L88.8,338.6 L88.6,337.6 L88.5,336.6 L88.5,335.6 L88.4,334.6 L88.2,333.6 L88.0,332.6 L87.8,331.6 L87.6,330.6 L87.6,329.6 L87.6,328.6 L87.5,327.6 L87.4,326.6 L87.4,325.6 L87.3,324.6 L87.2,323.6 L87.1,322.6 L87.1,321.6 L87.0,320.6 L87.0,319.6 Z"/></defs><use href="#v5" fill="#fff"/>
<line x1="87" y1="319.6" x2="87" y2="422.9" stroke="#333" stroke-width="0.7"/>
<path d="M87.7 376.0h0M86.7 408.5h0M88.0 378.2h0M87.1 359.0h0M90.0 383.5h0M86.2 350.2h0M88.3 349.8h0M83.0 386.8h0M89.2 412.5h0M88.1 384.8h0M84.9 356.5h0M81.6 379.2h0M85.8 359.5h0M86.9 343.5h0M90.8 375.5h0M88.7 378.8h0M88.9 378.0h0M84.5 376.2h0M88.9 414.0h0M87.6 401.0h0M84.9 369.0h0M84.0 367.5h0M86.4 391.5h0M86.6 401.8h0M89.3 410.5h0M86.1 340.0h0M86.8 407.5h0M86.5 412.2h0M87.5 348.0h0M85.8 392.5h0M86.3 349.5h0M88.6 411.0h0M85.9 352.5h0M85.1 350.8h0M85.9 394.5h0M86.4 380.5h0M88.1 359.5h0M87.6 353.8h0M86.7 352.5h0M85.9 361.5h0M88.7 411.5h0M89.9 368.2h0M86.5 361.5h0M87.5 402.8h0M89.1 350.8h0M85.9 361.8h0M86.1 392.0h0M83.9 367.8h0M87.3 349.8h0M87.6 364.2h0M86.6 372.2h0M86.9 410.5h0M91.4 381.0h0M85.4 358.8h0M89.3 407.5h0M85.1 364.8h0M89.8 389.5h0M89.1 360.0h0M87.5 405.5h0M82.8 374.5h0M88.7 344.2h0M88.2 363.8h0M89.1 365.2h0M84.7 382.0h0M88.0 358.0h0M85.9 347.5h0M91.3 380.5h0M84.6 382.8h0M84.8 408.0h0M86.2 342.0h0M82.2 375.8h0M86.4 358.2h0M82.5 381.0h0M90.4 371.8h0M87.8 412.2h0M87.8 386.5h0M85.0 354.8h0M88.5 342.0h0M90.9 387.0h0M87.5 342.5h0M89.6 377.2h0M91.0 369.2h0M87.2 348.2h0M89.6 389.2h0M88.3 389.2h0M88.6 394.0h0M88.6 371.0h0M89.5 407.0h0M90.1 374.5h0M87.3 403.8h0M85.8 383.2h0M88.3 381.2h0M87.6 348.8h0M88.7 413.5h0M86.2 388.8h0M87.5 389.2h0M90.7 375.5h0M88.0 349.0h0M87.4 343.2h0M83.9 377.2h0M87.0 387.0h0M91.5 382.8h0M83.9 365.0h0M88.3 368.2h0M85.5 360.8h0M88.1 407.2h0M91.3 375.5h0M88.4 369.8h0M86.7 360.2h0M88.1 395.5h0M86.4 405.2h0M84.8 381.5h0M87.0 354.2h0M88.0 400.8h0M90.5 387.8h0M84.8 366.5h0M84.5 376.0h0M86.6 361.8h0M86.9 383.2h0M89.7 369.0h0M86.8 412.5h0M85.1 348.2h0M84.9 404.8h0M87.6 387.5h0M89.3 368.8h0M85.7 342.2h0M81.8 376.0h0M86.4 399.5h0M85.0 354.8h0M86.5 383.5h0M88.6 383.5h0M88.1 395.8h0M84.3 386.2h0M83.4 377.0h0M86.9 341.2h0M84.5 387.8h0M86.0 366.2h0M87.2 387.0h0M89.7 382.8h0M89.8 373.2h0M84.2 407.2h0M88.7 409.0h0M86.8 353.8h0M91.2 383.2h0M87.0 331.2h0M87.3 337.0h0" stroke="#00c000" stroke-width="3.4" stroke-linecap="round"/>
<use href="#v5" fill="none" stroke="#333" stroke-width="0.55"/>
<line x1="82" y1="370.5" x2="92" y2="370.5" stroke="#000" stroke-width="1.45"/>
<line x1="83.4" y1="391.5" x2="90.6" y2="391.5" stroke="#000" stroke-width="1.45"/>
<line x1="80" y1="380.5" x2="94" y2="380.5" stroke="#e8261e" stroke-width="1.15"/>
<line x1="107.4" y1="364.4" x2="107.4" y2="424" stroke="#333" stroke-width="0.7"/>
<path d="M109.4 421.8h0M102.9 423.5h0M107.3 414.5h0M110.5 419.8h0M108.7 423.5h0M109.4 422.5h0M107.0 417.8h0M110.1 418.2h0M108.7 416.2h0M108.2 416.5h0M106.3 420.2h0M101.3 425.0h0M109.0 416.2h0M102.3 422.0h0M113.1 426.2h0M107.0 417.2h0M106.2 417.8h0M103.2 423.0h0M101.8 423.8h0M109.5 418.2h0M106.4 421.0h0M107.1 422.8h0M101.6 420.8h0M113.3 424.0h0M109.5 426.2h0M105.8 420.5h0M109.6 423.5h0M105.9 417.2h0M107.5 420.5h0M107.4 424.8h0M108.0 415.2h0M107.6 421.2h0M106.8 419.0h0M110.7 420.8h0M107.7 417.2h0M108.7 418.5h0M106.7 415.8h0M109.0 420.5h0M107.3 416.0h0M105.8 418.8h0M113.1 421.8h0M113.1 421.8h0M110.2 418.2h0M103.7 420.5h0M112.6 424.0h0M107.2 414.2h0M105.4 424.2h0M103.3 419.2h0M107.7 415.8h0M113.8 426.2h0M101.5 422.0h0M110.7 420.2h0M109.2 424.8h0M107.6 419.2h0M109.0 421.8h0M111.5 419.5h0M103.1 425.5h0M111.4 420.0h0M111.8 419.8h0M109.8 422.0h0M103.8 423.8h0M105.0 419.8h0M109.8 423.5h0M109.9 417.8h0M104.2 421.2h0M113.3 421.2h0M109.0 422.5h0M113.3 425.8h0M106.4 424.2h0M107.4 364.4h0M107.4 376.0h0M107.4 391.6h0M107.4 395.0h0M107.4 399.7h0M107.4 405.5h0M107.4 411.3h0M107.4 414.8h0" stroke="#00c000" stroke-width="3.4" stroke-linecap="round"/>
<line x1="100.9" y1="424.5" x2="113.9" y2="424.5" stroke="#000" stroke-width="1.45"/>
<line x1="101.4" y1="423.5" x2="113.4" y2="423.5" stroke="#e8261e" stroke-width="1.15"/>
<line x1="127.6" y1="361.5" x2="127.6" y2="429.9" stroke="#333" stroke-width="0.7"/>
<path d="M127.9 390.8h0M131.0 420.0h0M127.3 383.8h0M127.3 380.0h0M123.7 421.0h0M126.7 414.2h0M127.5 394.0h0M128.8 423.0h0M127.3 366.2h0M128.1 380.0h0M130.9 422.5h0M130.3 422.8h0M131.1 425.2h0M128.1 390.5h0M128.1 411.5h0M127.3 416.0h0M127.5 400.5h0M127.1 396.0h0M130.8 422.8h0M129.9 425.8h0M128.5 415.5h0M127.8 378.8h0M127.1 407.5h0M127.6 385.5h0M127.5 390.2h0M127.0 417.8h0M127.6 378.2h0M127.2 388.5h0M127.4 384.5h0M127.8 372.5h0M126.3 425.2h0M132.1 420.8h0M127.2 369.2h0M131.2 422.5h0M125.0 418.8h0M128.2 405.0h0M131.1 424.0h0M128.1 385.5h0M127.9 401.5h0M128.2 379.0h0M128.9 417.8h0M127.8 386.2h0M128.0 416.8h0M127.9 400.0h0M127.3 398.5h0M127.8 381.8h0M127.3 376.5h0M127.8 372.0h0M127.8 415.5h0M127.5 369.0h0M127.0 398.5h0M128.2 365.2h0M127.4 377.2h0M127.7 391.8h0M127.6 373.0h0M128.1 400.8h0M127.4 365.5h0M128.6 412.2h0M127.5 413.5h0M125.8 419.5h0M127.6 368.2h0M130.4 424.5h0M127.9 390.8h0M124.9 423.2h0M127.0 417.0h0M127.3 389.5h0M127.4 385.5h0M127.5 368.8h0M127.9 373.8h0M125.0 417.5h0M124.3 421.8h0M127.7 411.0h0M127.3 397.8h0M127.0 406.8h0M123.2 423.5h0M124.5 422.8h0M127.4 395.0h0M127.2 368.2h0M127.5 400.2h0M133.2 423.8h0M127.6 369.5h0M128.0 378.2h0M128.2 396.8h0M126.3 415.0h0M127.3 365.5h0M123.6 423.8h0M127.4 410.8h0M128.0 398.8h0M127.9 386.5h0M131.5 419.5h0M128.9 413.8h0M127.7 407.2h0M129.9 418.2h0M123.2 424.2h0M127.6 379.0h0M128.0 422.5h0M128.3 394.5h0M127.0 394.5h0M127.1 370.2h0M123.5 420.8h0M131.4 420.5h0M131.3 426.0h0M127.8 406.0h0M130.0 423.0h0M128.0 393.8h0M127.4 376.2h0M127.3 426.0h0M128.0 391.5h0M126.8 408.2h0" stroke="#00c000" stroke-width="3.4" stroke-linecap="round"/>
<line x1="120.8" y1="424.5" x2="134.4" y2="424.5" stroke="#000" stroke-width="1.45"/>
<line x1="121.3" y1="423.5" x2="133.9" y2="423.5" stroke="#e8261e" stroke-width="1.15"/>
<line x1="148" y1="410.6" x2="148" y2="424" stroke="#333" stroke-width="0.7"/>
<path d="M148.6 415.6h0M152.6 423.1h0M146.1 419.1h0M149.7 423.9h0M149.6 419.4h0M150.6 420.4h0M147.1 415.9h0M146.4 425.4h0M150.1 418.9h0M144.4 422.9h0M149.6 422.1h0M148.5 417.1h0M147.5 416.1h0M147.3 414.9h0M146.9 426.1h0M147.3 426.1h0M151.8 422.6h0M143.9 423.4h0M149.3 422.4h0M146.5 417.4h0M148.2 425.1h0M147.8 417.6h0M149.3 418.1h0M144.1 421.6h0M143.5 424.6h0M144.3 419.1h0M143.9 423.9h0M144.0 421.9h0M149.8 421.4h0M147.6 421.9h0M147.4 421.4h0M143.9 422.4h0M145.5 421.1h0M152.9 425.1h0M147.3 414.4h0M148.8 423.6h0M148.1 412.1h0M147.1 425.6h0M148.7 419.9h0M145.4 425.6h0M145.4 419.4h0M147.7 422.9h0M147.2 418.9h0M147.8 413.1h0M149.0 426.1h0M151.4 419.1h0M145.6 420.1h0M147.6 413.1h0M146.9 417.9h0M145.4 425.1h0M148.6 418.6h0M148.0 410.6h0" stroke="#00c000" stroke-width="3.4" stroke-linecap="round"/>
<line x1="141.7" y1="423.5" x2="154.3" y2="423.5" stroke="#000" stroke-width="1.45"/>
<line x1="142" y1="422.5" x2="154" y2="422.5" stroke="#e8261e" stroke-width="1.15"/>
<defs><path id="v6" d="M168.4,336.8 L168.4,337.8 L168.3,338.8 L168.2,339.8 L168.1,340.8 L168.0,341.8 L167.9,342.8 L167.8,343.8 L167.8,344.8 L167.8,345.8 L167.7,346.8 L167.7,347.8 L167.6,348.8 L167.5,349.8 L167.4,350.8 L167.3,351.8 L167.3,352.8 L167.2,353.8 L167.2,354.8 L167.2,355.8 L167.1,356.8 L167.0,357.8 L166.9,358.8 L166.8,359.8 L166.7,360.8 L166.5,361.8 L166.2,362.8 L165.8,363.8 L165.5,364.8 L165.4,365.8 L165.3,366.8 L164.9,367.8 L164.4,368.8 L163.9,369.8 L163.5,370.8 L163.4,371.8 L163.3,372.8 L163.2,373.8 L163.1,374.8 L162.9,375.8 L162.6,376.8 L162.5,377.8 L162.3,378.8 L162.2,379.8 L162.2,380.8 L162.3,381.8 L162.5,382.8 L162.7,383.8 L162.8,384.8 L162.9,385.8 L163.0,386.8 L163.4,387.8 L163.9,388.8 L164.5,389.8 L165.0,390.8 L165.2,391.8 L165.3,392.8 L165.7,393.8 L166.2,394.8 L166.6,395.8 L166.8,396.8 L166.7,397.8 L166.3,398.8 L165.9,399.8 L165.8,400.8 L166.0,401.8 L166.4,402.8 L166.7,403.8 L166.8,404.8 L166.3,405.8 L165.4,406.8 L164.3,407.8 L163.6,408.8 L163.5,409.8 L164.5,410.8 L166.2,411.8 L167.4,412.8 L167.6,413.8 L167.7,414.8 L167.8,415.8 L167.9,416.8 L168.1,417.8 L168.2,418.8 L168.3,419.8 L168.4,420.8 L168.4,421.1 L168.4,421.1 L168.4,420.8 L168.5,419.8 L168.6,418.8 L168.7,417.8 L168.9,416.8 L169.0,415.8 L169.1,414.8 L169.2,413.8 L169.4,412.8 L170.6,411.8 L172.3,410.8 L173.3,409.8 L173.2,408.8 L172.5,407.8 L171.4,406.8 L170.5,405.8 L170.0,404.8 L170.1,403.8 L170.4,402.8 L170.8,401.8 L171.0,400.8 L170.9,399.8 L170.5,398.8 L170.1,397.8 L170.0,396.8 L170.2,395.8 L170.6,394.8 L171.1,393.8 L171.5,392.8 L171.6,391.8 L171.8,390.8 L172.3,389.8 L172.9,388.8 L173.4,387.8 L173.8,386.8 L173.9,385.8 L174.0,384.8 L174.1,383.8 L174.3,382.8 L174.5,381.8 L174.6,380.8 L174.6,379.8 L174.5,378.8 L174.3,377.8 L174.2,376.8 L173.9,375.8 L173.7,374.8 L173.6,373.8 L173.5,372.8 L173.4,371.8 L173.3,370.8 L172.9,369.8 L172.4,368.8 L171.9,367.8 L171.5,366.8 L171.4,365.8 L171.3,364.8 L171.0,363.8 L170.6,362.8 L170.3,361.8 L170.1,360.8 L170.0,359.8 L169.9,358.8 L169.8,357.8 L169.7,356.8 L169.6,355.8 L169.6,354.8 L169.6,353.8 L169.5,352.8 L169.5,351.8 L169.4,350.8 L169.3,349.8 L169.2,348.8 L169.1,347.8 L169.1,346.8 L169.0,345.8 L169.0,344.8 L169.0,343.8 L168.9,342.8 L168.8,341.8 L168.7,340.8 L168.6,339.8 L168.5,338.8 L168.4,337.8 L168.4,336.8 Z"/></defs><use href="#v6" fill="#fff"/>
<line x1="168.4" y1="336.8" x2="168.4" y2="421.1" stroke="#333" stroke-width="0.7"/>
<path d="M164.6 410.2h0M166.7 392.2h0M166.4 411.5h0M169.0 406.0h0M169.6 403.2h0M167.0 373.0h0M167.1 390.5h0M166.0 374.0h0M169.3 403.2h0M167.8 398.0h0M168.5 408.5h0M168.0 372.8h0M163.9 379.5h0M167.0 384.5h0M172.6 384.8h0M167.6 387.5h0M169.4 404.0h0M173.1 382.0h0M167.8 358.8h0M171.9 370.2h0M169.9 389.5h0M168.4 374.8h0M166.8 406.5h0M166.1 367.2h0M172.1 381.2h0M167.4 384.2h0M165.0 382.2h0M167.2 409.5h0M166.8 372.8h0M167.7 400.5h0M167.4 407.5h0M163.8 380.2h0M170.4 407.8h0M164.3 381.5h0M167.1 382.0h0M169.9 401.8h0M167.4 392.5h0M169.3 361.5h0M165.5 409.5h0M168.2 382.2h0M165.5 410.8h0M169.6 363.5h0M168.0 384.8h0M168.6 395.5h0M166.8 389.8h0M166.2 365.2h0M169.9 376.5h0M166.8 378.2h0M170.3 386.5h0M166.6 385.8h0M169.5 400.2h0M170.4 407.0h0M168.7 358.2h0M167.3 377.0h0M164.7 382.8h0M172.7 373.5h0M172.5 376.5h0M167.1 389.2h0M169.4 376.0h0M167.5 390.2h0M167.3 363.2h0M168.9 403.8h0M170.0 366.8h0M166.8 385.0h0M166.5 407.0h0M167.7 366.2h0M168.6 392.2h0M172.7 381.8h0M171.5 378.8h0M168.8 356.5h0M169.5 369.5h0M169.0 401.5h0M168.9 385.0h0M167.8 393.2h0M168.9 372.8h0M164.5 383.0h0M168.1 383.2h0M169.9 369.5h0M168.0 395.5h0M169.4 404.2h0M167.7 388.2h0M165.1 374.2h0M172.9 374.2h0M169.8 363.2h0M170.2 390.0h0M169.1 366.2h0M169.9 371.5h0M168.9 397.5h0M172.3 383.5h0M165.5 372.5h0M167.5 404.2h0M167.5 379.5h0M168.0 405.8h0M168.4 384.8h0M168.1 381.5h0M169.4 381.2h0M167.6 380.0h0M172.1 408.5h0M172.3 373.2h0M168.1 359.2h0M166.5 407.2h0M172.3 388.5h0M168.0 386.2h0M168.3 360.2h0M171.5 381.0h0M171.6 378.5h0M169.8 379.0h0M167.0 393.8h0M168.0 409.8h0M173.5 381.5h0M168.6 384.8h0M166.0 372.0h0M168.4 394.0h0M170.0 388.0h0M167.2 389.2h0M168.3 404.0h0M171.4 370.5h0M166.1 407.5h0M169.2 406.5h0M168.4 344.5h0M168.4 349.4h0" stroke="#00c000" stroke-width="3.4" stroke-linecap="round"/>
<use href="#v6" fill="none" stroke="#333" stroke-width="0.55"/>
<line x1="162.8" y1="376.5" x2="174" y2="376.5" stroke="#000" stroke-width="1.45"/>
<line x1="165.2" y1="392.5" x2="171.6" y2="392.5" stroke="#000" stroke-width="1.45"/>
<line x1="162.3" y1="382.5" x2="174.5" y2="382.5" stroke="#e8261e" stroke-width="1.15"/>
<defs><path id="v7" d="M188.8,339.7 L188.8,340.7 L188.7,341.7 L188.5,342.7 L188.3,343.7 L188.1,344.7 L188.0,345.7 L187.9,346.7 L187.8,347.7 L187.8,348.7 L187.7,349.7 L187.5,350.7 L187.3,351.7 L187.1,352.7 L186.9,353.7 L186.8,354.7 L186.8,355.7 L186.7,356.7 L186.6,357.7 L186.4,358.7 L186.1,359.7 L185.9,360.7 L185.6,361.7 L185.4,362.7 L185.2,363.7 L185.0,364.7 L184.9,365.7 L184.8,366.7 L184.8,367.7 L184.6,368.7 L184.5,369.7 L184.2,370.7 L184.0,371.7 L183.7,372.7 L183.4,373.7 L183.1,374.7 L182.9,375.7 L182.7,376.7 L182.6,377.7 L182.6,378.7 L182.7,379.7 L182.8,380.7 L182.9,381.7 L183.1,382.7 L183.3,383.7 L183.4,384.7 L183.5,385.7 L183.6,386.7 L183.6,387.7 L183.6,388.7 L183.7,389.7 L183.8,390.7 L183.8,391.7 L183.8,392.7 L183.9,393.7 L184.1,394.7 L184.2,395.7 L184.4,396.7 L184.5,397.7 L184.6,398.7 L184.6,399.7 L184.6,400.7 L184.6,401.7 L184.7,402.7 L184.7,403.7 L184.7,404.7 L184.8,405.7 L184.8,406.7 L184.8,407.7 L185.0,408.7 L185.3,409.7 L185.7,410.7 L186.2,411.7 L186.7,412.7 L187.0,413.7 L187.3,414.7 L187.3,415.7 L187.4,416.7 L187.6,417.7 L187.9,418.7 L188.2,419.7 L188.5,420.7 L188.7,421.7 L188.8,422.7 L188.8,423.0 L188.8,423.0 L188.8,422.7 L188.9,421.7 L189.1,420.7 L189.4,419.7 L189.7,418.7 L190.0,417.7 L190.2,416.7 L190.3,415.7 L190.3,414.7 L190.6,413.7 L190.9,412.7 L191.4,411.7 L191.9,410.7 L192.3,409.7 L192.6,408.7 L192.8,407.7 L192.8,406.7 L192.8,405.7 L192.9,404.7 L192.9,403.7 L192.9,402.7 L193.0,401.7 L193.0,400.7 L193.0,399.7 L193.0,398.7 L193.1,397.7 L193.2,396.7 L193.4,395.7 L193.5,394.7 L193.7,393.7 L193.8,392.7 L193.8,391.7 L193.8,390.7 L193.9,389.7 L194.0,388.7 L194.0,387.7 L194.0,386.7 L194.1,385.7 L194.2,384.7 L194.3,383.7 L194.5,382.7 L194.7,381.7 L194.8,380.7 L194.9,379.7 L195.0,378.7 L195.0,377.7 L194.9,376.7 L194.7,375.7 L194.5,374.7 L194.2,373.7 L193.9,372.7 L193.6,371.7 L193.4,370.7 L193.1,369.7 L193.0,368.7 L192.8,367.7 L192.8,366.7 L192.7,365.7 L192.6,364.7 L192.4,363.7 L192.2,362.7 L192.0,361.7 L191.7,360.7 L191.5,359.7 L191.2,358.7 L191.0,357.7 L190.9,356.7 L190.8,355.7 L190.8,354.7 L190.7,353.7 L190.5,352.7 L190.3,351.7 L190.1,350.7 L189.9,349.7 L189.8,348.7 L189.8,347.7 L189.7,346.7 L189.6,345.7 L189.5,344.7 L189.3,343.7 L189.1,342.7 L188.9,341.7 L188.8,340.7 L188.8,339.7 Z"/></defs><use href="#v7" fill="#fff"/>
<line x1="188.8" y1="339.7" x2="188.8" y2="423" stroke="#333" stroke-width="0.7"/>
<path d="M188.6 378.0h0M188.2 380.2h0M190.5 380.0h0M190.0 373.2h0M188.3 354.2h0M185.0 376.8h0M187.4 397.0h0M192.0 399.8h0M192.3 373.0h0M190.0 401.0h0M188.7 356.5h0M187.0 390.5h0M187.3 371.5h0M191.4 373.2h0M188.0 377.2h0M192.6 391.2h0M184.3 375.0h0M189.8 412.8h0M189.0 399.8h0M185.9 372.0h0M188.4 375.5h0M189.7 360.8h0M185.1 396.0h0M188.7 403.2h0M188.6 408.2h0M188.5 400.2h0M188.8 389.8h0M187.8 356.0h0M188.0 372.0h0M189.2 378.2h0M187.9 392.2h0M188.9 376.0h0M190.1 410.8h0M191.5 392.0h0M185.5 371.8h0M186.7 363.0h0M189.1 354.2h0M186.3 408.2h0M192.4 393.8h0M186.4 398.2h0M186.7 391.2h0M185.4 368.8h0M192.6 385.2h0M186.7 363.8h0M183.8 379.0h0M191.1 382.5h0M184.2 382.2h0M187.9 357.0h0M192.4 392.8h0M185.1 384.2h0M188.1 371.0h0M186.5 364.0h0M192.4 381.0h0M192.1 372.2h0M188.4 405.2h0M186.2 371.5h0M191.6 392.8h0M186.8 404.2h0M183.8 380.8h0M186.7 375.5h0M186.1 365.2h0M188.5 415.8h0M189.1 384.0h0M189.7 382.8h0M188.7 384.2h0M189.5 362.0h0M190.7 392.8h0M188.4 375.8h0M190.4 400.8h0M188.2 359.5h0M190.2 368.2h0M187.6 379.8h0M188.4 371.5h0M189.8 395.5h0M188.0 371.2h0M185.0 390.2h0M185.7 407.0h0M185.8 390.5h0M189.7 411.0h0M188.8 371.5h0M191.2 403.2h0M190.0 392.5h0M191.9 396.8h0M189.9 384.8h0M188.9 400.2h0M189.4 371.2h0M191.1 377.5h0M191.7 397.2h0M185.9 364.0h0M190.2 409.0h0M189.3 416.5h0M187.2 410.8h0M189.6 369.2h0M186.1 397.8h0M187.4 410.2h0M188.3 370.2h0M185.9 369.0h0M186.5 361.8h0M190.0 367.0h0M190.7 399.2h0M191.5 380.2h0M191.1 364.5h0M184.8 380.0h0M185.5 378.8h0M187.9 397.0h0M188.0 355.2h0M191.1 362.0h0M191.8 380.0h0M188.0 388.8h0M189.2 396.2h0M190.5 358.5h0M190.4 377.5h0M193.7 380.2h0M185.8 368.0h0M188.5 358.5h0M188.4 403.5h0M186.6 409.0h0M187.6 412.0h0M186.8 405.8h0M189.8 388.2h0M188.5 412.5h0M185.8 403.2h0M188.9 406.8h0M193.0 386.0h0M190.0 375.8h0M187.1 388.5h0M188.3 366.8h0M189.9 374.5h0M184.3 380.0h0M192.3 393.8h0M187.0 390.0h0M193.5 375.5h0M191.1 381.5h0M190.3 361.5h0M187.2 406.5h0M190.3 375.5h0M190.2 410.8h0M187.8 355.8h0M188.2 406.2h0M188.6 410.8h0M186.9 402.8h0M188.7 411.8h0M188.1 353.5h0M188.4 362.2h0M190.9 411.0h0M188.2 408.8h0M190.5 398.5h0M192.0 402.5h0M190.6 402.5h0M185.4 376.0h0M186.6 380.2h0M186.3 397.5h0M190.5 370.2h0M187.4 358.0h0M187.7 353.0h0M190.2 363.2h0M185.1 373.8h0M187.4 384.0h0M187.8 353.5h0M188.1 373.0h0M188.3 364.8h0M188.8 349.4h0" stroke="#00c000" stroke-width="3.4" stroke-linecap="round"/>
<use href="#v7" fill="none" stroke="#333" stroke-width="0.55"/>
<line x1="182.6" y1="378.5" x2="195" y2="378.5" stroke="#000" stroke-width="1.45"/>
<line x1="184.6" y1="399.5" x2="193" y2="399.5" stroke="#000" stroke-width="1.45"/>
<line x1="183.6" y1="387.5" x2="194" y2="387.5" stroke="#e8261e" stroke-width="1.15"/>
<text transform="translate(213.3 284) scale(1 1.04)" font-size="8.4" font-weight="bold" text-anchor="start" fill="#000">D</text>
<line x1="273.1" y1="301.79" x2="273.1" y2="446.25" stroke="#000" stroke-width="1.4"/>
<line x1="268.1" y1="430.2" x2="273.1" y2="430.2" stroke="#000" stroke-width="1.4"/>
<text transform="translate(266.6 434.1) scale(1 1.17)" font-size="9" font-weight="bold" text-anchor="end" fill="#000">0</text>
<line x1="268.1" y1="398.26" x2="273.1" y2="398.26" stroke="#000" stroke-width="1.4"/>
<text transform="translate(266.6 402.16) scale(1 1.17)" font-size="9" font-weight="bold" text-anchor="end" fill="#000">2</text>
<line x1="268.1" y1="366.32" x2="273.1" y2="366.32" stroke="#000" stroke-width="1.4"/>
<text transform="translate(266.6 370.22) scale(1 1.17)" font-size="9" font-weight="bold" text-anchor="end" fill="#000">4</text>
<line x1="268.1" y1="334.38" x2="273.1" y2="334.38" stroke="#000" stroke-width="1.4"/>
<text transform="translate(266.6 338.28) scale(1 1.17)" font-size="9" font-weight="bold" text-anchor="end" fill="#000">6</text>
<line x1="268.1" y1="302.44" x2="273.1" y2="302.44" stroke="#000" stroke-width="1.4"/>
<text transform="translate(266.6 306.34) scale(1 1.17)" font-size="9" font-weight="bold" text-anchor="end" fill="#000">8</text>
<text transform="translate(253.1 365.2) rotate(-90)" x="0" y="0" font-size="9.1" font-weight="bold" text-anchor="middle">(F<tspan font-size="7" dy="2.5">Max</tspan><tspan dy="-2.5">-F</tspan><tspan font-size="7" dy="2.5">0</tspan><tspan dy="-2.5">)/F</tspan><tspan font-size="7" dy="2.5">0</tspan></text>
<line x1="272.4" y1="445.6" x2="445.4" y2="445.6" stroke="#000" stroke-width="1.5"/>
<line x1="275" y1="430.2" x2="445" y2="430.2" stroke="#222" stroke-width="1.2" stroke-dasharray="1.1 2.2"/>
<text transform="translate(251.3 451.3) scale(1 1.04)" font-size="9.2" font-weight="bold" text-anchor="middle" fill="#000">NAADP</text>
<text transform="translate(251.3 461) scale(1 1.04)" font-size="9.2" font-weight="bold" text-anchor="middle" fill="#000">Liposome</text>
<text transform="translate(251.3 470.6) scale(1 1.04)" font-size="9.2" font-weight="bold" text-anchor="middle" fill="#000">Sph</text>
<text transform="translate(251.3 480.3) scale(1 1.04)" font-size="9.2" font-weight="bold" text-anchor="middle" fill="#000">(0.05 μM)</text>
<path d="M282.9 454.4h3" stroke="#000" stroke-width="1.25"/>
<path d="M300.1 454.4h3" stroke="#000" stroke-width="1.25"/>
<path d="M314.9 454.4h4.8M317.3 452.05v4.7" stroke="#000" stroke-width="1.25"/>
<path d="M330.7 454.4h4.8M333.1 452.05v4.7" stroke="#000" stroke-width="1.25"/>
<path d="M348.8 454.4h3" stroke="#000" stroke-width="1.25"/>
<path d="M364.6 454.4h4.8M367 452.05v4.7" stroke="#000" stroke-width="1.25"/>
<path d="M381.1 454.4h4.8M383.5 452.05v4.7" stroke="#000" stroke-width="1.25"/>
<path d="M398.8 454.4h3" stroke="#000" stroke-width="1.25"/>
<path d="M414.6 454.4h4.8M417 452.05v4.7" stroke="#000" stroke-width="1.25"/>
<path d="M431.5 454.4h4.8M433.9 452.05v4.7" stroke="#000" stroke-width="1.25"/>
<path d="M282.9 470.5h3" stroke="#000" stroke-width="1.25"/>
<path d="M299.2 470.5h4.8M301.6 468.15v4.7" stroke="#000" stroke-width="1.25"/>
<path d="M315.8 470.5h3" stroke="#000" stroke-width="1.25"/>
<path d="M330.7 470.5h4.8M333.1 468.15v4.7" stroke="#000" stroke-width="1.25"/>
<path d="M347.9 470.5h4.8M350.3 468.15v4.7" stroke="#000" stroke-width="1.25"/>
<path d="M365.5 470.5h3" stroke="#000" stroke-width="1.25"/>
<path d="M381.1 470.5h4.8M383.5 468.15v4.7" stroke="#000" stroke-width="1.25"/>
<path d="M397.9 470.5h4.8M400.3 468.15v4.7" stroke="#000" stroke-width="1.25"/>
<path d="M415.5 470.5h3" stroke="#000" stroke-width="1.25"/>
<path d="M431.5 470.5h4.8M433.9 468.15v4.7" stroke="#000" stroke-width="1.25"/>
<line x1="279.7" y1="481.3" x2="339.2" y2="481.3" stroke="#000" stroke-width="1.3"/>
<line x1="345.9" y1="481.3" x2="387.9" y2="481.3" stroke="#000" stroke-width="1.3"/>
<line x1="396.3" y1="481.3" x2="438.2" y2="481.3" stroke="#000" stroke-width="1.3"/>
<text transform="translate(309.5 493) scale(1 1.04)" font-size="9.2" font-weight="bold" text-anchor="middle" fill="#000">DMSO</text>
<text transform="translate(367 493) scale(1 1.04)" font-size="9.2" font-weight="bold" text-anchor="middle" fill="#000">Tet</text>
<text transform="translate(366.5 503.1) scale(1 1.04)" font-size="9.2" font-weight="bold" text-anchor="middle" fill="#000">(5 μM)</text>
<text transform="translate(417.3 493) scale(1 1.04)" font-size="9.2" font-weight="bold" text-anchor="middle" fill="#000">siLIMP-2</text>
<polyline points="288.1,307.5 288.1,304.4 332.7,304.4 332.7,307.5" fill="none" stroke="#000" stroke-width="1.3" stroke-linejoin="miter"/>
<text transform="translate(310.6 304.2) scale(1 1.04)" font-size="9.3" text-anchor="middle" fill="#000">***</text>
<polyline points="288.1,315.7 288.1,312.6 316.4,312.6 316.4,315.7" fill="none" stroke="#000" stroke-width="1.3" stroke-linejoin="miter"/>
<text transform="translate(302.4 313.3) scale(1 1.04)" font-size="9.3" text-anchor="middle" fill="#000">***</text>
<polyline points="365.4,317 365.4,314 382.5,314 382.5,317" fill="none" stroke="#000" stroke-width="1.3" stroke-linejoin="miter"/>
<text transform="translate(374 313.4) scale(1 1.04)" font-size="9.3" text-anchor="middle" fill="#000">***</text>
<polyline points="416,317 416,314 433,314 433,317" fill="none" stroke="#000" stroke-width="1.3" stroke-linejoin="miter"/>
<text transform="translate(424.5 313.4) scale(1 1.04)" font-size="9.3" text-anchor="middle" fill="#000">***</text>
<line x1="284.3" y1="409.8" x2="284.3" y2="428" stroke="#333" stroke-width="0.7"/>
<path d="M285.4 421.0h0M284.1 426.8h0M286.2 421.8h0M284.4 428.5h0M281.5 425.5h0M284.2 416.0h0M279.6 426.2h0M281.5 428.5h0M281.3 422.0h0M286.7 430.5h0M285.5 429.2h0M284.0 417.8h0M280.2 425.5h0M283.0 430.0h0M286.1 420.8h0M286.5 420.2h0M284.8 425.0h0M284.2 423.8h0M281.5 421.2h0M281.6 429.2h0M281.2 428.2h0M288.3 430.2h0M287.1 428.0h0M286.8 426.2h0M284.2 420.0h0M281.2 428.8h0M288.2 429.8h0M283.1 424.5h0M283.2 425.0h0M283.2 430.5h0M283.7 417.5h0M289.5 427.8h0M284.2 425.5h0M287.0 426.0h0M285.0 421.8h0M285.6 426.0h0M282.3 421.2h0M287.7 423.8h0M285.1 423.8h0M281.5 423.2h0M285.3 418.8h0M283.0 428.2h0M286.2 427.2h0M289.0 429.5h0M288.8 424.5h0M285.2 430.2h0M284.3 409.8h0" stroke="#00c000" stroke-width="3.4" stroke-linecap="round"/>
<line x1="278.8" y1="425.5" x2="289.8" y2="425.5" stroke="#000" stroke-width="1.45"/>
<line x1="279.3" y1="426.5" x2="289.3" y2="426.5" stroke="#e8261e" stroke-width="1.15"/>
<line x1="300.7" y1="414.5" x2="300.7" y2="428" stroke="#333" stroke-width="0.7"/>
<path d="M297.2 430.2h0M301.4 419.0h0M298.6 422.2h0M299.2 427.2h0M298.1 429.5h0M299.0 430.2h0M305.0 427.0h0M304.9 427.8h0M296.2 428.0h0M301.6 429.5h0M298.4 424.0h0M301.5 429.2h0M303.4 430.0h0M301.3 430.2h0M301.8 427.8h0M303.7 423.5h0M302.8 424.0h0M302.2 430.2h0M302.4 421.8h0M297.6 427.5h0M300.8 419.8h0M301.4 419.2h0M300.9 426.0h0M302.2 425.0h0M298.8 429.8h0M301.4 424.8h0M301.4 424.0h0M300.0 426.2h0M301.0 427.5h0M302.7 420.8h0M300.1 424.5h0M304.7 425.0h0M300.8 430.2h0M297.0 425.0h0M297.5 429.8h0M299.2 426.5h0M299.6 424.2h0M298.1 422.5h0M303.7 426.2h0M297.7 427.2h0M300.7 414.5h0" stroke="#00c000" stroke-width="3.4" stroke-linecap="round"/>
<line x1="295.2" y1="426.5" x2="306.2" y2="426.5" stroke="#000" stroke-width="1.45"/>
<line x1="295.7" y1="427.5" x2="305.7" y2="427.5" stroke="#e8261e" stroke-width="1.15"/>
<defs><path id="v8" d="M317.1,350.7 L317.0,351.7 L316.8,352.7 L316.5,353.7 L316.3,354.7 L316.1,355.7 L316.0,356.7 L315.8,357.7 L315.4,358.7 L315.2,359.7 L315.1,360.7 L314.9,361.7 L314.7,362.7 L314.3,363.7 L313.9,364.7 L313.4,365.7 L313.1,366.7 L312.8,367.7 L312.6,368.7 L312.6,369.7 L312.8,370.7 L313.1,371.7 L313.4,372.7 L313.7,373.7 L314.0,374.7 L314.1,375.7 L314.1,376.7 L313.9,377.7 L313.8,378.7 L313.6,379.7 L313.5,380.7 L313.5,381.7 L313.4,382.7 L313.3,383.7 L313.1,384.7 L313.1,385.7 L313.3,386.7 L313.7,387.7 L314.2,388.7 L314.7,389.7 L315.0,390.7 L315.1,391.7 L315.0,392.7 L314.7,393.7 L314.5,394.7 L314.5,395.7 L314.1,396.7 L313.5,397.7 L312.8,398.7 L312.1,399.7 L311.5,400.7 L311.1,401.7 L311.1,402.7 L311.2,403.7 L311.4,404.7 L311.5,405.7 L311.6,406.7 L311.8,407.7 L312.2,408.7 L312.6,409.7 L312.9,410.7 L313.1,411.7 L313.2,412.7 L313.5,413.7 L313.8,414.7 L314.2,415.7 L314.5,416.7 L314.6,417.7 L314.8,418.7 L315.4,419.7 L315.9,420.7 L316.1,421.7 L316.1,422.7 L316.2,423.7 L316.4,424.7 L316.6,425.7 L316.7,426.7 L316.9,427.7 L317.0,428.7 L317.1,429.7 L317.1,430.3 L317.1,430.3 L317.1,429.7 L317.2,428.7 L317.3,427.7 L317.5,426.7 L317.6,425.7 L317.8,424.7 L318.0,423.7 L318.1,422.7 L318.1,421.7 L318.3,420.7 L318.8,419.7 L319.4,418.7 L319.6,417.7 L319.7,416.7 L320.0,415.7 L320.4,414.7 L320.7,413.7 L321.0,412.7 L321.1,411.7 L321.3,410.7 L321.6,409.7 L322.0,408.7 L322.4,407.7 L322.6,406.7 L322.7,405.7 L322.8,404.7 L323.0,403.7 L323.1,402.7 L323.1,401.7 L322.7,400.7 L322.1,399.7 L321.4,398.7 L320.7,397.7 L320.1,396.7 L319.7,395.7 L319.7,394.7 L319.5,393.7 L319.2,392.7 L319.1,391.7 L319.2,390.7 L319.5,389.7 L320.0,388.7 L320.5,387.7 L320.9,386.7 L321.1,385.7 L321.1,384.7 L320.9,383.7 L320.8,382.7 L320.7,381.7 L320.7,380.7 L320.6,379.7 L320.4,378.7 L320.3,377.7 L320.1,376.7 L320.1,375.7 L320.2,374.7 L320.5,373.7 L320.8,372.7 L321.1,371.7 L321.4,370.7 L321.6,369.7 L321.6,368.7 L321.4,367.7 L321.1,366.7 L320.8,365.7 L320.3,364.7 L319.9,363.7 L319.5,362.7 L319.3,361.7 L319.1,360.7 L319.0,359.7 L318.8,358.7 L318.4,357.7 L318.2,356.7 L318.1,355.7 L317.9,354.7 L317.7,353.7 L317.4,352.7 L317.2,351.7 L317.1,350.7 Z"/></defs><use href="#v8" fill="#fff"/>
<line x1="317.1" y1="350.7" x2="317.1" y2="430.3" stroke="#333" stroke-width="0.7"/>
<path d="M319.6 414.0h0M314.4 412.2h0M316.5 399.2h0M315.7 395.2h0M316.7 371.5h0M316.8 373.2h0M316.0 361.0h0M316.3 404.0h0M317.9 393.8h0M314.5 382.5h0M317.9 406.8h0M318.4 402.0h0M316.6 417.5h0M315.8 406.0h0M318.1 398.2h0M314.8 379.8h0M317.9 389.8h0M316.7 399.2h0M313.8 401.5h0M315.8 370.8h0M314.5 408.2h0M314.2 367.5h0M316.3 362.5h0M319.2 398.2h0M316.3 380.8h0M316.1 378.0h0M317.6 406.8h0M315.3 375.8h0M319.1 407.0h0M314.9 408.8h0M318.9 396.5h0M320.6 399.2h0M320.6 370.2h0M316.7 364.0h0M317.9 360.8h0M322.0 403.0h0M321.1 407.8h0M319.1 396.0h0M315.6 405.5h0M316.7 418.0h0M314.3 371.5h0M315.8 389.0h0M319.4 414.8h0M314.8 372.8h0M315.8 395.2h0M318.5 396.5h0M316.7 375.5h0M316.7 412.8h0M319.4 381.5h0M320.5 408.2h0M316.2 403.0h0M320.5 403.2h0M314.4 401.2h0M316.6 378.5h0M317.6 406.5h0M318.7 397.0h0M318.0 367.2h0M317.4 380.8h0M315.1 409.2h0M315.3 416.0h0M317.3 397.8h0M317.4 374.0h0M316.9 389.5h0M312.1 404.2h0M318.9 383.5h0M319.9 369.0h0M318.3 372.0h0M316.7 370.5h0M314.4 386.2h0M316.9 403.5h0M317.5 403.2h0M317.2 397.2h0M319.2 378.8h0M319.4 366.0h0M317.1 410.5h0M318.8 406.5h0M315.2 400.0h0M316.3 380.0h0M319.6 379.0h0M316.4 381.5h0M319.2 386.0h0M317.3 390.0h0M316.1 375.5h0M315.4 366.0h0M318.7 376.2h0M315.9 392.8h0M315.4 388.8h0M316.7 398.0h0M315.4 410.2h0M315.3 410.0h0M317.5 418.8h0M318.2 362.8h0M316.4 377.0h0M319.6 369.2h0M318.6 366.2h0M318.3 384.8h0M314.9 378.2h0M318.0 413.5h0M320.6 370.2h0M315.2 413.2h0M317.4 360.2h0M318.8 368.8h0M317.9 389.2h0M318.9 398.2h0M318.0 408.5h0M315.7 399.2h0M314.1 368.5h0M315.0 410.2h0M315.9 386.5h0M317.4 400.5h0M316.6 410.2h0M318.0 382.8h0M321.2 405.2h0M319.2 379.5h0M318.7 418.5h0M316.2 368.2h0M320.3 406.5h0M316.7 362.5h0M319.7 404.5h0M316.0 395.8h0M314.2 385.2h0M316.7 379.8h0M317.9 408.5h0M315.4 385.8h0M318.1 379.8h0M315.3 387.5h0M317.7 408.5h0" stroke="#00c000" stroke-width="3.4" stroke-linecap="round"/>
<use href="#v8" fill="none" stroke="#333" stroke-width="0.55"/>
<line x1="313.5" y1="381.5" x2="320.7" y2="381.5" stroke="#000" stroke-width="1.45"/>
<line x1="311.5" y1="406.5" x2="322.7" y2="406.5" stroke="#000" stroke-width="1.45"/>
<line x1="314.5" y1="395.5" x2="319.7" y2="395.5" stroke="#e8261e" stroke-width="1.15"/>
<defs><path id="v9" d="M333.5,343.9 L333.5,344.9 L333.4,345.9 L333.3,346.9 L333.1,347.9 L333.0,348.9 L332.8,349.9 L332.7,350.9 L332.7,351.9 L332.7,352.9 L332.7,353.9 L332.7,354.9 L332.7,355.9 L332.6,356.9 L332.6,357.9 L332.6,358.9 L332.6,359.9 L332.5,360.9 L332.5,361.9 L332.5,362.9 L332.5,363.9 L332.5,364.9 L332.5,365.9 L332.5,366.9 L332.4,367.9 L332.3,368.9 L332.3,369.9 L332.2,370.9 L332.1,371.9 L332.1,372.9 L332.0,373.9 L332.0,374.9 L332.0,375.9 L331.8,376.9 L331.6,377.9 L331.4,378.9 L331.2,379.9 L331.0,380.9 L331.0,381.9 L330.9,382.9 L330.7,383.9 L330.5,384.9 L330.3,385.9 L330.1,386.9 L330.0,387.9 L330.0,388.9 L329.8,389.9 L329.6,390.9 L329.3,391.9 L329.1,392.9 L329.0,393.9 L328.9,394.9 L328.5,395.9 L328.2,396.9 L327.9,397.9 L327.9,398.9 L327.9,399.9 L327.9,400.9 L327.9,401.9 L328.0,402.9 L328.2,403.9 L328.3,404.9 L328.5,405.9 L328.7,406.9 L328.8,407.9 L328.9,408.9 L328.9,409.9 L329.1,410.9 L329.3,411.9 L329.6,412.9 L329.8,413.9 L330.0,414.9 L330.0,415.9 L330.2,416.9 L330.5,417.9 L330.8,418.9 L331.2,419.9 L331.4,420.9 L331.5,421.9 L331.7,422.9 L332.0,423.9 L332.4,424.9 L332.7,425.9 L332.9,426.9 L332.9,427.9 L333.0,428.9 L333.2,429.9 L333.3,430.9 L333.4,431.9 L333.5,432.9 L333.5,433.2 L333.5,433.2 L333.5,432.9 L333.6,431.9 L333.7,430.9 L333.8,429.9 L334.0,428.9 L334.1,427.9 L334.1,426.9 L334.3,425.9 L334.6,424.9 L335.0,423.9 L335.3,422.9 L335.5,421.9 L335.6,420.9 L335.8,419.9 L336.2,418.9 L336.5,417.9 L336.8,416.9 L337.0,415.9 L337.0,414.9 L337.2,413.9 L337.4,412.9 L337.7,411.9 L337.9,410.9 L338.1,409.9 L338.1,408.9 L338.2,407.9 L338.3,406.9 L338.5,405.9 L338.7,404.9 L338.8,403.9 L339.0,402.9 L339.1,401.9 L339.1,400.9 L339.1,399.9 L339.1,398.9 L339.1,397.9 L338.8,396.9 L338.5,395.9 L338.1,394.9 L338.0,393.9 L337.9,392.9 L337.7,391.9 L337.4,390.9 L337.2,389.9 L337.0,388.9 L337.0,387.9 L336.9,386.9 L336.7,385.9 L336.5,384.9 L336.3,383.9 L336.1,382.9 L336.0,381.9 L336.0,380.9 L335.8,379.9 L335.6,378.9 L335.4,377.9 L335.2,376.9 L335.0,375.9 L335.0,374.9 L335.0,373.9 L334.9,372.9 L334.9,371.9 L334.8,370.9 L334.7,369.9 L334.7,368.9 L334.6,367.9 L334.5,366.9 L334.5,365.9 L334.5,364.9 L334.5,363.9 L334.5,362.9 L334.5,361.9 L334.5,360.9 L334.4,359.9 L334.4,358.9 L334.4,357.9 L334.4,356.9 L334.3,355.9 L334.3,354.9 L334.3,353.9 L334.3,352.9 L334.3,351.9 L334.3,350.9 L334.2,349.9 L334.0,348.9 L333.9,347.9 L333.7,346.9 L333.6,345.9 L333.5,344.9 L333.5,343.9 Z"/></defs><use href="#v9" fill="#fff"/>
<line x1="333.5" y1="343.9" x2="333.5" y2="433.2" stroke="#333" stroke-width="0.7"/>
<path d="M336.2 407.8h0M336.3 387.5h0M334.5 388.2h0M334.4 382.0h0M334.5 385.8h0M335.6 408.2h0M337.0 398.5h0M332.6 422.8h0M337.9 401.0h0M333.1 409.0h0M336.9 393.2h0M334.5 381.5h0M331.4 413.5h0M332.0 394.2h0M332.2 401.8h0M335.9 416.0h0M336.5 393.8h0M332.1 380.2h0M336.0 406.0h0M336.8 412.2h0M332.1 414.2h0M336.8 409.0h0M333.5 382.0h0M331.7 386.0h0M335.1 399.8h0M332.5 421.5h0M338.3 400.5h0M333.7 410.0h0M334.3 390.8h0M334.5 391.5h0M332.6 405.5h0M332.8 411.2h0M336.7 399.2h0M331.4 391.0h0M332.9 402.8h0M332.1 415.0h0M329.7 396.0h0M331.7 398.8h0M336.1 398.8h0M334.6 377.2h0M336.0 407.8h0M334.2 401.8h0M332.5 397.2h0M332.3 389.5h0M332.3 393.0h0M335.1 416.8h0M329.3 405.2h0M333.8 391.5h0M332.8 407.0h0M337.1 404.8h0M332.7 391.8h0M332.1 409.8h0M332.7 408.2h0M333.4 375.2h0M334.5 380.0h0M333.7 413.5h0M331.9 416.2h0M330.4 398.5h0M334.4 378.5h0M334.7 378.8h0M335.4 402.2h0M334.6 378.5h0M330.6 411.2h0M331.5 387.5h0M329.4 400.5h0M333.5 411.2h0M331.5 407.5h0M333.1 405.8h0M332.7 405.5h0M334.3 423.0h0M332.5 413.0h0M331.6 388.0h0M335.6 384.8h0M336.2 392.5h0M334.2 390.2h0M332.2 391.0h0M334.3 409.2h0M332.5 419.0h0M330.4 392.0h0M336.3 389.2h0M333.3 402.5h0M335.5 394.8h0M330.7 407.0h0M332.6 378.2h0M335.1 412.2h0M331.9 389.8h0M334.8 393.5h0M331.5 409.2h0M331.5 394.2h0M333.7 419.0h0M332.5 418.8h0M334.1 404.8h0M332.9 418.2h0M335.4 390.0h0M333.5 419.5h0M330.3 394.5h0M337.6 398.5h0M333.1 395.5h0M331.0 402.5h0M333.6 383.0h0M334.6 420.8h0M335.6 393.2h0M333.5 354.0h0M333.5 359.0h0M333.5 368.2h0" stroke="#00c000" stroke-width="3.4" stroke-linecap="round"/>
<use href="#v9" fill="none" stroke="#333" stroke-width="0.55"/>
<line x1="329.9" y1="388.5" x2="337.1" y2="388.5" stroke="#000" stroke-width="1.45"/>
<line x1="328.9" y1="409.5" x2="338.1" y2="409.5" stroke="#000" stroke-width="1.45"/>
<line x1="327.9" y1="401.5" x2="339.1" y2="401.5" stroke="#e8261e" stroke-width="1.15"/>
<line x1="349.9" y1="324.5" x2="349.9" y2="429" stroke="#333" stroke-width="0.7"/>
<path d="M353.6 428.5h0M347.3 430.5h0M351.1 430.5h0M351.2 426.5h0M348.5 428.0h0M350.7 428.8h0M350.9 427.0h0M350.0 430.5h0M351.1 430.2h0M347.0 430.2h0M349.6 428.5h0M352.4 427.0h0M346.1 429.5h0M349.1 429.2h0M347.7 427.5h0M345.9 428.8h0M350.0 429.2h0M352.2 427.2h0M348.9 426.5h0M347.3 430.2h0M350.5 428.8h0M349.8 428.8h0M349.7 429.0h0M350.8 426.5h0M346.6 428.0h0M352.6 428.5h0M349.5 429.5h0M347.2 429.0h0M348.5 429.5h0M348.4 426.8h0M350.9 427.0h0M352.2 430.5h0M347.5 427.8h0M348.8 431.0h0M349.9 324.5h0M349.9 359.5h0M349.9 369.1h0M349.9 414.5h0M349.9 417.0h0M349.9 420.0h0M349.9 423.0h0M350.3 425.5h0" stroke="#00c000" stroke-width="3.4" stroke-linecap="round"/>
<line x1="344.9" y1="428.5" x2="354.9" y2="428.5" stroke="#000" stroke-width="1.45"/>
<line x1="345.4" y1="428.5" x2="354.4" y2="428.5" stroke="#e8261e" stroke-width="1.15"/>
<line x1="366.3" y1="420" x2="366.3" y2="429" stroke="#333" stroke-width="0.7"/>
<path d="M363.6 428.2h0M366.8 423.0h0M367.2 420.8h0M362.1 428.5h0M366.3 427.8h0M370.3 427.2h0M365.4 430.2h0M369.0 429.0h0M361.7 430.2h0M363.6 429.8h0M366.8 422.0h0M370.6 429.0h0M368.8 424.8h0M367.1 420.0h0M366.6 424.0h0M364.2 421.8h0M366.4 419.2h0M369.0 426.8h0M365.6 429.2h0M363.5 429.2h0M363.9 429.5h0M365.2 430.0h0M366.5 425.5h0M365.0 420.8h0M368.1 426.5h0M366.0 420.5h0M368.5 425.0h0M362.3 430.2h0M362.9 426.5h0M370.4 428.5h0M367.0 428.0h0M365.4 420.2h0M363.8 423.5h0M368.4 422.0h0" stroke="#00c000" stroke-width="3.4" stroke-linecap="round"/>
<line x1="361.8" y1="428.5" x2="370.8" y2="428.5" stroke="#000" stroke-width="1.45"/>
<line x1="362.8" y1="428.5" x2="369.8" y2="428.5" stroke="#a03020" stroke-width="1.15"/>
<defs><path id="v10" d="M382.7,333.1 L382.7,334.1 L382.6,335.1 L382.6,336.1 L382.5,337.1 L382.4,338.1 L382.3,339.1 L382.2,340.1 L382.1,341.1 L382.0,342.1 L382.0,343.1 L381.9,344.1 L381.9,345.1 L381.9,346.1 L381.9,347.1 L381.8,348.1 L381.8,349.1 L381.7,350.1 L381.6,351.1 L381.6,352.1 L381.5,353.1 L381.4,354.1 L381.4,355.1 L381.3,356.1 L381.3,357.1 L381.2,358.1 L381.2,359.1 L381.2,360.1 L381.2,361.1 L381.1,362.1 L381.1,363.1 L381.0,364.1 L380.9,365.1 L380.7,366.1 L380.6,367.1 L380.5,368.1 L380.4,369.1 L380.3,370.1 L380.3,371.1 L380.2,372.1 L380.2,373.1 L380.1,374.1 L380.0,375.1 L379.8,376.1 L379.6,377.1 L379.4,378.1 L379.2,379.1 L379.0,380.1 L378.8,381.1 L378.7,382.1 L378.7,383.1 L378.7,384.1 L378.6,385.1 L378.5,386.1 L378.3,387.1 L378.2,388.1 L378.2,389.1 L378.2,390.1 L378.1,391.1 L378.0,392.1 L377.9,393.1 L377.8,394.1 L377.7,395.1 L377.7,396.1 L377.8,397.1 L377.8,398.1 L377.9,399.1 L378.0,400.1 L378.1,401.1 L378.2,402.1 L378.2,403.1 L378.3,404.1 L378.5,405.1 L378.7,406.1 L379.0,407.1 L379.3,408.1 L379.5,409.1 L379.7,410.1 L379.7,411.1 L379.9,412.1 L380.2,413.1 L380.5,414.1 L380.9,415.1 L381.2,416.1 L381.4,417.1 L381.5,418.1 L381.5,419.1 L381.7,420.1 L381.8,421.1 L381.9,422.1 L381.9,423.1 L382.0,424.1 L382.1,425.1 L382.3,426.1 L382.4,427.1 L382.6,428.1 L382.7,429.1 L382.7,429.6 L382.7,429.6 L382.7,429.1 L382.8,428.1 L383.0,427.1 L383.1,426.1 L383.3,425.1 L383.4,424.1 L383.5,423.1 L383.5,422.1 L383.6,421.1 L383.7,420.1 L383.9,419.1 L383.9,418.1 L384.0,417.1 L384.2,416.1 L384.5,415.1 L384.9,414.1 L385.2,413.1 L385.5,412.1 L385.7,411.1 L385.7,410.1 L385.9,409.1 L386.1,408.1 L386.4,407.1 L386.7,406.1 L386.9,405.1 L387.1,404.1 L387.2,403.1 L387.2,402.1 L387.3,401.1 L387.4,400.1 L387.5,399.1 L387.6,398.1 L387.6,397.1 L387.7,396.1 L387.7,395.1 L387.6,394.1 L387.5,393.1 L387.4,392.1 L387.3,391.1 L387.2,390.1 L387.2,389.1 L387.2,388.1 L387.1,387.1 L386.9,386.1 L386.8,385.1 L386.7,384.1 L386.7,383.1 L386.7,382.1 L386.6,381.1 L386.4,380.1 L386.2,379.1 L386.0,378.1 L385.8,377.1 L385.6,376.1 L385.4,375.1 L385.3,374.1 L385.2,373.1 L385.2,372.1 L385.1,371.1 L385.1,370.1 L385.0,369.1 L384.9,368.1 L384.8,367.1 L384.7,366.1 L384.5,365.1 L384.4,364.1 L384.3,363.1 L384.3,362.1 L384.2,361.1 L384.2,360.1 L384.2,359.1 L384.2,358.1 L384.1,357.1 L384.1,356.1 L384.0,355.1 L384.0,354.1 L383.9,353.1 L383.8,352.1 L383.8,351.1 L383.7,350.1 L383.6,349.1 L383.6,348.1 L383.5,347.1 L383.5,346.1 L383.5,345.1 L383.5,344.1 L383.4,343.1 L383.4,342.1 L383.3,341.1 L383.2,340.1 L383.1,339.1 L383.0,338.1 L382.9,337.1 L382.8,336.1 L382.8,335.1 L382.7,334.1 L382.7,333.1 Z"/></defs><use href="#v10" fill="#fff"/>
<line x1="382.7" y1="333.1" x2="382.7" y2="429.6" stroke="#333" stroke-width="0.7"/>
<path d="M384.3 398.8h0M381.8 414.2h0M383.8 370.8h0M381.8 386.0h0M380.6 405.8h0M382.7 411.0h0M384.2 371.0h0M379.1 395.8h0M384.4 406.8h0M383.9 402.5h0M382.2 419.0h0M382.9 416.2h0M383.4 382.2h0M383.8 386.2h0M382.9 401.0h0M382.3 373.2h0M384.4 384.5h0M383.9 412.2h0M379.9 394.2h0M380.9 401.0h0M382.4 419.8h0M381.7 415.5h0M381.6 404.0h0M382.0 395.8h0M382.3 384.8h0M381.7 405.8h0M384.8 387.2h0M381.9 378.5h0M382.8 393.8h0M384.1 378.0h0M379.4 392.5h0M379.6 386.2h0M379.9 386.5h0M383.1 382.2h0M381.1 400.2h0M382.8 391.5h0M386.2 396.2h0M384.4 380.5h0M386.0 395.0h0M378.8 400.2h0M383.7 370.0h0M383.5 384.2h0M382.9 373.0h0M382.4 389.2h0M383.7 365.2h0M384.2 407.0h0M380.4 397.8h0M384.6 379.2h0M381.9 385.8h0M381.9 409.0h0M382.4 419.0h0M381.5 407.5h0M382.5 376.0h0M380.1 406.0h0M385.7 396.8h0M382.7 367.8h0M382.5 385.0h0M382.3 406.5h0M380.7 384.8h0M380.3 405.8h0M386.5 401.5h0M385.8 400.5h0M383.1 375.2h0M379.2 397.2h0M381.2 390.2h0M382.3 375.2h0M384.2 372.2h0M382.9 377.8h0M379.0 401.2h0M384.3 413.0h0M382.9 396.0h0M383.3 407.5h0M385.4 380.8h0M383.0 379.8h0M385.0 394.8h0M383.7 387.5h0M383.9 380.0h0M382.0 377.5h0M384.6 393.8h0M384.8 410.8h0M379.3 391.8h0M383.4 396.8h0M379.3 402.2h0M380.0 404.8h0M385.7 406.5h0M382.3 394.8h0M379.7 399.0h0M385.5 399.0h0M383.5 412.5h0M386.3 401.5h0M381.5 388.2h0M382.2 418.8h0M384.4 386.5h0M383.8 413.0h0M384.4 379.0h0M382.9 380.8h0M386.8 397.2h0M381.8 380.8h0M381.3 385.0h0M382.2 377.8h0M381.1 383.0h0M380.2 406.5h0M382.7 340.2h0M382.7 356.5h0M382.7 359.0h0M382.7 423.3h0" stroke="#00c000" stroke-width="3.4" stroke-linecap="round"/>
<use href="#v10" fill="none" stroke="#333" stroke-width="0.55"/>
<line x1="378.2" y1="389.5" x2="387.2" y2="389.5" stroke="#000" stroke-width="1.45"/>
<line x1="378.2" y1="403.5" x2="387.2" y2="403.5" stroke="#000" stroke-width="1.45"/>
<line x1="377.7" y1="395.5" x2="387.7" y2="395.5" stroke="#e8261e" stroke-width="1.15"/>
<line x1="399.1" y1="415.7" x2="399.1" y2="430" stroke="#333" stroke-width="0.7"/>
<path d="M397.7 419.4h0M396.7 426.7h0M399.0 419.7h0M397.2 424.4h0M401.3 423.9h0M398.0 419.7h0M398.7 417.2h0M400.8 418.9h0M402.1 422.9h0M400.6 419.7h0M400.4 425.4h0M397.3 427.4h0M400.0 421.7h0M397.3 419.7h0M400.3 428.4h0M399.2 422.2h0M397.0 429.9h0M398.8 419.7h0M398.6 420.4h0M399.5 417.2h0M398.0 428.9h0M397.5 423.7h0M402.7 430.4h0M396.5 427.4h0M400.2 420.7h0M399.9 420.9h0M396.0 424.4h0M401.0 421.2h0M400.2 422.9h0M398.2 428.4h0M401.6 425.4h0M399.3 428.2h0M398.7 425.9h0M400.2 424.4h0M401.0 421.9h0M397.5 422.7h0M394.5 430.4h0M399.4 424.2h0M401.3 424.7h0M399.1 427.4h0M399.1 415.7h0" stroke="#00c000" stroke-width="3.4" stroke-linecap="round"/>
<line x1="396.1" y1="423.5" x2="402.1" y2="423.5" stroke="#000" stroke-width="1.45"/>
<line x1="394.1" y1="428.5" x2="404.1" y2="428.5" stroke="#000" stroke-width="1.45"/>
<line x1="396.1" y1="428.5" x2="402.1" y2="428.5" stroke="#a03020" stroke-width="1.15"/>
<line x1="415.5" y1="375.9" x2="415.5" y2="429" stroke="#333" stroke-width="0.7"/>
<path d="M414.1 428.5h0M413.6 430.0h0M414.1 428.2h0M419.4 427.8h0M415.2 426.0h0M414.5 426.8h0M414.0 430.5h0M414.8 428.8h0M415.0 429.2h0M415.1 426.5h0M417.9 427.8h0M412.8 428.5h0M413.7 429.0h0M413.0 428.2h0M417.8 427.8h0M417.7 428.2h0M416.3 429.5h0M414.6 429.0h0M418.0 428.8h0M417.8 426.0h0M412.7 427.5h0M414.5 426.2h0M415.1 425.8h0M416.8 427.8h0M419.2 428.0h0M413.9 429.0h0M417.3 430.0h0M417.6 430.5h0M412.9 430.5h0M418.8 427.0h0M416.4 425.2h0M412.3 430.2h0M418.1 426.2h0M418.8 430.5h0M415.5 375.9h0M415.5 384.0h0M415.5 392.0h0M415.5 398.0h0M415.5 404.0h0M415.5 410.0h0M415.5 414.0h0M415.5 418.0h0M415.5 421.0h0M415.8 424.0h0" stroke="#00c000" stroke-width="3.4" stroke-linecap="round"/>
<line x1="410.5" y1="427.5" x2="420.5" y2="427.5" stroke="#000" stroke-width="1.45"/>
<line x1="411" y1="427.5" x2="420" y2="427.5" stroke="#e8261e" stroke-width="1.15"/>
<defs><path id="v11" d="M431.9,319.0 L431.9,320.0 L431.7,321.0 L431.6,322.0 L431.5,323.0 L431.3,324.0 L431.3,325.0 L431.3,326.0 L431.2,327.0 L431.2,328.0 L431.1,329.0 L431.1,330.0 L431.0,331.0 L430.9,332.0 L430.9,333.0 L430.9,334.0 L430.9,335.0 L430.9,336.0 L430.9,337.0 L430.9,338.0 L430.9,339.0 L430.8,340.0 L430.8,341.0 L430.8,342.0 L430.8,343.0 L430.8,344.0 L430.7,345.0 L430.7,346.0 L430.7,347.0 L430.7,348.0 L430.7,349.0 L430.7,350.0 L430.7,351.0 L430.7,352.0 L430.6,353.0 L430.6,354.0 L430.5,355.0 L430.5,356.0 L430.4,357.0 L430.4,358.0 L430.4,359.0 L430.3,360.0 L430.3,361.0 L430.3,362.0 L430.1,363.0 L429.8,364.0 L429.5,365.0 L429.4,366.0 L429.3,367.0 L429.0,368.0 L428.6,369.0 L428.2,370.0 L427.9,371.0 L427.9,372.0 L427.8,373.0 L427.8,374.0 L427.6,375.0 L427.5,376.0 L427.4,377.0 L427.3,378.0 L427.2,379.0 L427.1,380.0 L427.1,381.0 L427.0,382.0 L426.9,383.0 L426.7,384.0 L426.5,385.0 L426.3,386.0 L426.1,387.0 L426.0,388.0 L425.9,389.0 L425.9,390.0 L425.9,391.0 L425.9,392.0 L425.9,393.0 L425.9,394.0 L425.9,395.0 L426.0,396.0 L426.2,397.0 L426.5,398.0 L426.7,399.0 L426.9,400.0 L426.9,401.0 L427.0,402.0 L427.1,403.0 L427.2,404.0 L427.4,405.0 L427.6,406.0 L427.7,407.0 L427.8,408.0 L427.9,409.0 L427.9,410.0 L428.0,411.0 L428.1,412.0 L428.3,413.0 L428.4,414.0 L428.6,415.0 L428.7,416.0 L428.8,417.0 L428.9,418.0 L428.9,419.0 L429.0,420.0 L429.1,421.0 L429.2,422.0 L429.4,423.0 L429.5,424.0 L429.6,425.0 L429.8,426.0 L429.9,427.0 L429.9,428.0 L430.0,429.0 L430.2,430.0 L430.5,431.0 L430.9,432.0 L431.2,433.0 L431.5,434.0 L431.5,435.0 L431.5,436.0 L431.6,437.0 L431.6,438.0 L431.7,439.0 L431.7,440.0 L431.8,441.0 L431.8,442.0 L431.9,443.0 L431.9,444.0 L431.9,444.7 L431.9,444.7 L431.9,444.0 L431.9,443.0 L432.0,442.0 L432.0,441.0 L432.1,440.0 L432.1,439.0 L432.2,438.0 L432.2,437.0 L432.3,436.0 L432.3,435.0 L432.3,434.0 L432.6,433.0 L432.9,432.0 L433.3,431.0 L433.6,430.0 L433.8,429.0 L433.9,428.0 L433.9,427.0 L434.0,426.0 L434.2,425.0 L434.3,424.0 L434.4,423.0 L434.6,422.0 L434.7,421.0 L434.8,420.0 L434.9,419.0 L434.9,418.0 L435.0,417.0 L435.1,416.0 L435.2,415.0 L435.4,414.0 L435.5,413.0 L435.7,412.0 L435.8,411.0 L435.9,410.0 L435.9,409.0 L436.0,408.0 L436.1,407.0 L436.2,406.0 L436.4,405.0 L436.6,404.0 L436.7,403.0 L436.8,402.0 L436.9,401.0 L436.9,400.0 L437.1,399.0 L437.3,398.0 L437.6,397.0 L437.8,396.0 L437.9,395.0 L437.9,394.0 L437.9,393.0 L437.9,392.0 L437.9,391.0 L437.9,390.0 L437.9,389.0 L437.8,388.0 L437.7,387.0 L437.5,386.0 L437.3,385.0 L437.1,384.0 L436.9,383.0 L436.8,382.0 L436.7,381.0 L436.7,380.0 L436.6,379.0 L436.5,378.0 L436.4,377.0 L436.3,376.0 L436.2,375.0 L436.0,374.0 L436.0,373.0 L435.9,372.0 L435.9,371.0 L435.6,370.0 L435.2,369.0 L434.8,368.0 L434.5,367.0 L434.4,366.0 L434.3,365.0 L434.0,364.0 L433.7,363.0 L433.5,362.0 L433.5,361.0 L433.5,360.0 L433.4,359.0 L433.4,358.0 L433.4,357.0 L433.3,356.0 L433.3,355.0 L433.2,354.0 L433.2,353.0 L433.1,352.0 L433.1,351.0 L433.1,350.0 L433.1,349.0 L433.1,348.0 L433.1,347.0 L433.1,346.0 L433.1,345.0 L433.0,344.0 L433.0,343.0 L433.0,342.0 L433.0,341.0 L433.0,340.0 L432.9,339.0 L432.9,338.0 L432.9,337.0 L432.9,336.0 L432.9,335.0 L432.9,334.0 L432.9,333.0 L432.9,332.0 L432.8,331.0 L432.7,330.0 L432.7,329.0 L432.6,328.0 L432.6,327.0 L432.5,326.0 L432.5,325.0 L432.5,324.0 L432.3,323.0 L432.2,322.0 L432.1,321.0 L431.9,320.0 L431.9,319.0 Z"/></defs><use href="#v11" fill="#fff"/>
<line x1="431.9" y1="319" x2="431.9" y2="444.7" stroke="#333" stroke-width="0.7"/>
<path d="M429.7 392.5h0M432.0 339.5h0M430.3 372.0h0M433.2 385.0h0M431.8 429.5h0M432.8 430.5h0M428.9 374.5h0M433.3 367.5h0M436.2 395.8h0M432.3 427.0h0M427.4 392.5h0M432.1 337.5h0M434.2 400.0h0M433.7 394.0h0M435.6 398.0h0M431.9 360.2h0M434.5 379.2h0M430.7 415.8h0M431.6 353.2h0M434.1 379.8h0M434.3 385.8h0M432.1 378.8h0M432.8 370.2h0M435.7 391.2h0M432.0 423.5h0M432.4 350.2h0M431.8 423.0h0M436.4 389.8h0M430.1 375.5h0M433.4 401.5h0M434.7 401.0h0M431.1 391.2h0M430.0 373.2h0M431.3 383.2h0M432.8 404.5h0M430.6 391.0h0M430.8 397.2h0M432.8 408.8h0M430.8 401.5h0M434.2 391.5h0M432.0 424.8h0M433.4 380.0h0M431.6 361.8h0M431.9 340.2h0M431.1 375.5h0M432.8 408.0h0M431.8 341.8h0M432.1 332.2h0M435.6 390.2h0M434.3 376.2h0M433.2 365.0h0M428.0 384.5h0M433.4 419.8h0M432.4 370.8h0M428.2 389.2h0M436.6 386.5h0M434.2 384.0h0M433.8 406.0h0M435.9 396.5h0M431.7 381.5h0M427.8 387.8h0M434.6 390.0h0M428.5 394.5h0M431.8 374.5h0M431.4 359.0h0M428.9 404.5h0M431.3 360.8h0M426.9 391.5h0M432.5 401.0h0M433.9 406.0h0M432.0 403.5h0M432.7 379.0h0M430.9 366.2h0M432.7 401.8h0M431.7 364.8h0M429.0 395.8h0M428.7 398.8h0M431.5 368.0h0M433.6 377.8h0M429.9 386.0h0M434.1 410.5h0M429.3 407.0h0M428.9 376.8h0M431.6 404.8h0M432.6 356.2h0M431.3 352.2h0M431.7 418.0h0M432.4 413.5h0M431.8 364.8h0M428.4 406.0h0M430.9 407.2h0M430.0 391.2h0M431.8 408.0h0M427.4 388.0h0M429.3 403.8h0M426.8 396.0h0M432.1 359.5h0M432.6 377.5h0M430.7 401.2h0M430.7 392.2h0M432.2 343.5h0M435.7 392.2h0M433.1 398.0h0M432.1 360.2h0M429.7 386.8h0M431.3 360.5h0M432.1 350.8h0M428.2 386.5h0M435.8 394.0h0M430.1 421.0h0M433.0 397.0h0M430.6 389.5h0M430.3 388.8h0M429.0 384.8h0M434.9 401.5h0M431.5 426.5h0M430.2 374.0h0M432.0 336.8h0M431.9 365.8h0M433.0 414.5h0M434.5 397.5h0M435.2 396.5h0M429.1 396.5h0M432.4 350.8h0M432.0 360.5h0M433.6 415.5h0M428.6 405.8h0M431.9 340.0h0M431.4 357.8h0M434.1 375.5h0M433.9 410.0h0M433.8 416.0h0M434.8 369.8h0M433.6 381.8h0M430.1 408.0h0M432.4 420.0h0M430.8 401.5h0M429.5 404.0h0M433.6 381.0h0M432.3 414.8h0M427.4 394.2h0M428.8 389.2h0M431.1 378.2h0M430.1 390.5h0M428.8 402.8h0M432.1 342.2h0M436.9 389.2h0M432.6 396.5h0M427.7 394.5h0M431.1 397.8h0M430.8 364.8h0M431.8 331.2h0M432.2 384.5h0M429.4 413.8h0M430.3 365.2h0M431.4 389.2h0M431.8 336.0h0M429.5 375.5h0M427.8 386.5h0M430.9 367.5h0M431.5 378.8h0" stroke="#00c000" stroke-width="3.4" stroke-linecap="round"/>
<use href="#v11" fill="none" stroke="#333" stroke-width="0.55"/>
<line x1="427.1" y1="380.5" x2="436.7" y2="380.5" stroke="#000" stroke-width="1.45"/>
<line x1="427.9" y1="409.5" x2="435.9" y2="409.5" stroke="#000" stroke-width="1.45"/>
<line x1="425.9" y1="394.5" x2="437.9" y2="394.5" stroke="#e8261e" stroke-width="1.15"/>
<text transform="translate(461.2 284) scale(1 1.04)" font-size="8.4" font-weight="bold" text-anchor="start" fill="#000">E</text>
<line x1="516" y1="321.75" x2="516" y2="445.95" stroke="#000" stroke-width="1.4"/>
<line x1="511" y1="431.6" x2="516" y2="431.6" stroke="#000" stroke-width="1.4"/>
<text transform="translate(509.2 435.5) scale(1 1.17)" font-size="9" font-weight="bold" text-anchor="end" fill="#000">0</text>
<line x1="511" y1="404.3" x2="516" y2="404.3" stroke="#000" stroke-width="1.4"/>
<text transform="translate(509.2 408.2) scale(1 1.17)" font-size="9" font-weight="bold" text-anchor="end" fill="#000">2</text>
<line x1="511" y1="377" x2="516" y2="377" stroke="#000" stroke-width="1.4"/>
<text transform="translate(509.2 380.9) scale(1 1.17)" font-size="9" font-weight="bold" text-anchor="end" fill="#000">4</text>
<line x1="511" y1="349.7" x2="516" y2="349.7" stroke="#000" stroke-width="1.4"/>
<text transform="translate(509.2 353.6) scale(1 1.17)" font-size="9" font-weight="bold" text-anchor="end" fill="#000">6</text>
<line x1="511" y1="322.4" x2="516" y2="322.4" stroke="#000" stroke-width="1.4"/>
<text transform="translate(509.2 326.3) scale(1 1.17)" font-size="9" font-weight="bold" text-anchor="end" fill="#000">8</text>
<text transform="translate(496.2 377.2) rotate(-90)" x="0" y="0" font-size="9.1" font-weight="bold" text-anchor="middle">(F<tspan font-size="7" dy="2.5">Max</tspan><tspan dy="-2.5">-F</tspan><tspan font-size="7" dy="2.5">0</tspan><tspan dy="-2.5">)/F</tspan><tspan font-size="7" dy="2.5">0</tspan></text>
<line x1="515.3" y1="445.3" x2="670.4" y2="445.3" stroke="#000" stroke-width="1.4"/>
<line x1="518" y1="431.6" x2="668" y2="431.6" stroke="#222" stroke-width="1.2" stroke-dasharray="1.1 2.2"/>
<text transform="translate(495.8 450.6) scale(1 1.04)" font-size="9.2" font-weight="bold" text-anchor="middle" fill="#000">NAADP</text>
<text transform="translate(495.8 460.6) scale(1 1.04)" font-size="9.2" font-weight="bold" text-anchor="middle" fill="#000">Liposome</text>
<text transform="translate(495.8 470.2) scale(1 1.04)" font-size="9.2" font-weight="bold" text-anchor="middle" fill="#000">Sph</text>
<text transform="translate(495.8 480.2) scale(1 1.04)" font-size="9.2" font-weight="bold" text-anchor="middle" fill="#000">(0.5 μM)</text>
<path d="M527.7 454.1h3" stroke="#000" stroke-width="1.25"/>
<path d="M547.9 454.1h4.8M550.3 451.75v4.7" stroke="#000" stroke-width="1.25"/>
<path d="M570.4 454.1h3" stroke="#000" stroke-width="1.25"/>
<path d="M589.9 454.1h4.8M592.3 451.75v4.7" stroke="#000" stroke-width="1.25"/>
<path d="M612.3 454.1h3" stroke="#000" stroke-width="1.25"/>
<path d="M632.3 454.1h4.8M634.7 451.75v4.7" stroke="#000" stroke-width="1.25"/>
<path d="M654.3 454.1h3" stroke="#000" stroke-width="1.25"/>
<path d="M527.7 471.3h3" stroke="#000" stroke-width="1.25"/>
<path d="M548.8 471.3h3" stroke="#000" stroke-width="1.25"/>
<path d="M569.5 471.3h4.8M571.9 468.95v4.7" stroke="#000" stroke-width="1.25"/>
<path d="M611.4 471.3h4.8M613.8 468.95v4.7" stroke="#000" stroke-width="1.25"/>
<path d="M633.2 471.3h3" stroke="#000" stroke-width="1.25"/>
<path d="M653.4 471.3h4.8M655.8 468.95v4.7" stroke="#000" stroke-width="1.25"/>
<path d="M682.5 471.3h3" stroke="#000" stroke-width="1.25"/>
<line x1="525.5" y1="483" x2="576.9" y2="483" stroke="#000" stroke-width="1.3"/>
<line x1="588.6" y1="483" x2="616.9" y2="483" stroke="#000" stroke-width="1.3"/>
<line x1="632.3" y1="483" x2="660.5" y2="483" stroke="#000" stroke-width="1.3"/>
<text transform="translate(551.5 496) scale(1 1.04)" font-size="9.2" font-weight="bold" text-anchor="middle" fill="#000">WT</text>
<text transform="translate(603 496) scale(1 1.04)" font-size="9.2" font-weight="bold" text-anchor="middle" fill="#000">Tet</text>
<text transform="translate(603 506) scale(1 1.04)" font-size="9.2" font-weight="bold" text-anchor="middle" fill="#000">(5 μM)</text>
<text transform="translate(647 496) scale(1 1.04)" font-size="9.2" font-weight="bold" text-anchor="middle" fill="#000">siLIMP-2</text>
<polyline points="528.5,353.2 528.5,350.6 550.7,350.6 550.7,353.2" fill="none" stroke="#000" stroke-width="1.3" stroke-linejoin="miter"/>
<text transform="translate(539.3 349.6) scale(1 1.04)" font-size="9.3" text-anchor="middle" fill="#000">***</text>
<polyline points="529.8,333.7 529.8,330.5 571.5,330.5 571.5,333.7" fill="none" stroke="#000" stroke-width="1.3" stroke-linejoin="miter"/>
<text transform="translate(548.6 330.4) scale(1 1.04)" font-size="9.3" text-anchor="middle" fill="#000">***</text>
<polyline points="572,321.7 572,318.3 614,318.3 614,321.7" fill="none" stroke="#000" stroke-width="1.3" stroke-linejoin="miter"/>
<text transform="translate(593.2 315.2) scale(1 1.04)" font-size="10" text-anchor="middle" fill="#000">ns</text>
<polyline points="572,309.7 572,306.1 655.9,306.1 655.9,309.7" fill="none" stroke="#000" stroke-width="1.3" stroke-linejoin="miter"/>
<text transform="translate(614.3 302.8) scale(1 1.04)" font-size="10" text-anchor="middle" fill="#000">ns</text>
<polyline points="593.4,349.8 593.4,346.8 616.3,346.8 616.3,349.8" fill="none" stroke="#000" stroke-width="1.3" stroke-linejoin="miter"/>
<text transform="translate(603.9 346.2) scale(1 1.04)" font-size="9.3" text-anchor="middle" fill="#000">***</text>
<polyline points="633.6,349.8 633.6,346.8 656.2,346.8 656.2,349.8" fill="none" stroke="#000" stroke-width="1.3" stroke-linejoin="miter"/>
<text transform="translate(643.4 345.4) scale(1 1.04)" font-size="9.3" text-anchor="middle" fill="#000">***</text>
<line x1="529" y1="392.6" x2="529" y2="430" stroke="#333" stroke-width="0.7"/>
<path d="M528.6 421.5h0M531.0 427.0h0M526.5 424.0h0M531.0 425.2h0M530.6 424.2h0M524.8 429.2h0M528.4 428.2h0M534.4 427.0h0M526.1 423.5h0M527.9 431.5h0M527.8 424.8h0M533.7 426.8h0M526.9 425.0h0M529.5 428.5h0M532.7 431.8h0M526.1 426.5h0M534.5 430.8h0M529.7 422.2h0M530.7 431.0h0M531.2 425.0h0M525.5 429.8h0M525.8 429.0h0M528.4 422.5h0M528.0 426.5h0M532.9 429.0h0M534.3 431.8h0M532.2 432.0h0M526.1 426.0h0M529.5 429.0h0M524.3 429.2h0M531.9 424.8h0M531.3 428.8h0M528.4 423.5h0M530.7 431.2h0M525.7 432.0h0M532.4 427.5h0M532.3 427.5h0M524.6 428.2h0M531.9 423.5h0M527.1 423.8h0M531.1 426.5h0M528.7 430.8h0M532.3 427.8h0M527.9 425.8h0M530.6 428.8h0M527.9 422.2h0M530.5 424.0h0M534.4 429.5h0M526.2 430.0h0M534.5 430.0h0M524.1 426.5h0M529.0 392.6h0M529.0 403.7h0M529.0 409.0h0M529.0 413.9h0M529.0 419.2h0M529.0 422.4h0" stroke="#00c000" stroke-width="3.4" stroke-linecap="round"/>
<line x1="522.7" y1="427.5" x2="535.3" y2="427.5" stroke="#000" stroke-width="1.45"/>
<line x1="523" y1="428.5" x2="535" y2="428.5" stroke="#e8261e" stroke-width="1.15"/>
<defs><path id="v12" d="M550.1,363.1 L550.0,364.1 L549.9,365.1 L549.7,366.1 L549.5,367.1 L549.3,368.1 L549.2,369.1 L549.1,370.1 L548.9,371.1 L548.3,372.1 L547.4,373.1 L546.5,374.1 L545.7,375.1 L545.2,376.1 L545.1,377.1 L545.0,378.1 L544.7,379.1 L544.5,380.1 L544.2,381.1 L543.9,382.1 L543.7,383.1 L543.6,384.1 L543.6,385.1 L543.6,386.1 L543.6,387.1 L543.6,388.1 L543.5,389.1 L543.5,390.1 L543.5,391.1 L543.5,392.1 L543.5,393.1 L543.6,394.1 L543.7,395.1 L543.8,396.1 L544.0,397.1 L544.1,398.1 L544.1,399.1 L544.1,400.1 L544.2,401.1 L544.4,402.1 L544.5,403.1 L544.6,404.1 L544.6,405.1 L544.8,406.1 L545.1,407.1 L545.5,408.1 L545.8,409.1 L546.1,410.1 L546.1,411.1 L546.6,412.1 L547.4,413.1 L548.2,414.1 L548.9,415.1 L549.1,416.1 L549.2,417.1 L549.5,418.1 L549.7,419.1 L549.8,420.1 L549.8,421.1 L549.8,422.1 L549.8,423.1 L549.8,424.1 L549.8,425.1 L549.9,426.1 L549.9,427.1 L549.9,428.1 L549.9,429.1 L549.9,430.1 L550.0,431.1 L550.0,432.1 L550.0,433.1 L550.0,434.1 L550.0,435.1 L550.1,436.1 L550.1,437.1 L550.1,438.1 L550.1,439.1 L550.1,440.1 L550.1,440.5 L550.1,440.5 L550.1,440.1 L550.1,439.1 L550.1,438.1 L550.1,437.1 L550.1,436.1 L550.2,435.1 L550.2,434.1 L550.2,433.1 L550.2,432.1 L550.2,431.1 L550.3,430.1 L550.3,429.1 L550.3,428.1 L550.3,427.1 L550.3,426.1 L550.4,425.1 L550.4,424.1 L550.4,423.1 L550.4,422.1 L550.4,421.1 L550.4,420.1 L550.5,419.1 L550.7,418.1 L551.0,417.1 L551.1,416.1 L551.3,415.1 L552.0,414.1 L552.8,413.1 L553.6,412.1 L554.1,411.1 L554.1,410.1 L554.4,409.1 L554.7,408.1 L555.1,407.1 L555.4,406.1 L555.6,405.1 L555.6,404.1 L555.7,403.1 L555.8,402.1 L556.0,401.1 L556.1,400.1 L556.1,399.1 L556.1,398.1 L556.2,397.1 L556.4,396.1 L556.5,395.1 L556.6,394.1 L556.7,393.1 L556.7,392.1 L556.7,391.1 L556.7,390.1 L556.7,389.1 L556.6,388.1 L556.6,387.1 L556.6,386.1 L556.6,385.1 L556.6,384.1 L556.5,383.1 L556.3,382.1 L556.0,381.1 L555.7,380.1 L555.5,379.1 L555.2,378.1 L555.1,377.1 L555.0,376.1 L554.5,375.1 L553.7,374.1 L552.8,373.1 L551.9,372.1 L551.3,371.1 L551.1,370.1 L551.0,369.1 L550.9,368.1 L550.7,367.1 L550.5,366.1 L550.3,365.1 L550.2,364.1 L550.1,363.1 Z"/></defs><use href="#v12" fill="#fff"/>
<line x1="550.1" y1="363.1" x2="550.1" y2="440.5" stroke="#333" stroke-width="0.7"/>
<path d="M547.7 376.5h0M554.7 385.5h0M552.7 392.2h0M550.2 377.5h0M550.3 405.8h0M552.6 410.8h0M544.4 388.0h0M546.4 402.0h0M550.7 372.2h0M553.2 405.8h0M548.2 411.2h0M546.9 376.8h0M548.5 413.0h0M545.4 380.2h0M546.6 375.2h0M546.2 387.2h0M555.0 385.8h0M553.2 380.5h0M550.8 401.5h0M553.1 395.2h0M547.1 395.5h0M547.2 386.5h0M555.7 389.0h0M545.1 390.0h0M553.7 391.8h0M552.4 390.5h0M546.4 377.0h0M545.4 398.5h0M548.8 385.5h0M545.2 381.5h0M551.1 372.0h0M554.8 399.5h0M555.4 392.2h0M551.2 406.5h0M550.2 393.2h0M548.7 382.8h0M547.0 400.8h0M550.2 406.0h0M553.6 396.2h0M546.3 397.8h0M544.5 383.5h0M552.5 373.8h0M555.3 395.8h0M548.3 403.0h0M552.4 412.2h0M545.3 391.0h0M546.3 386.0h0M545.3 387.8h0M555.0 400.5h0M553.1 382.2h0M549.9 395.5h0M549.2 408.8h0M545.7 404.8h0M548.3 412.0h0M550.7 371.5h0M551.9 400.8h0M548.9 402.5h0M548.5 378.2h0M553.2 411.2h0M549.5 382.8h0M554.8 390.8h0M550.7 371.8h0M550.7 383.8h0M546.3 378.8h0M550.1 407.5h0M551.9 412.5h0M545.9 402.0h0M555.5 395.8h0M545.1 392.5h0M555.1 381.2h0M549.0 413.0h0M552.6 386.0h0M546.4 392.8h0M550.5 413.8h0M544.6 387.8h0M553.0 392.8h0M545.9 381.0h0M554.4 400.8h0M549.8 388.0h0M550.3 397.5h0M548.1 378.8h0M546.9 382.0h0M549.2 377.0h0M553.9 382.5h0M555.4 386.2h0M547.9 404.2h0M550.8 380.0h0M550.5 391.5h0M550.4 378.5h0M549.6 402.2h0M554.9 383.8h0M555.8 385.2h0M544.9 399.5h0M546.0 390.5h0M549.3 403.2h0M553.9 376.8h0M551.1 403.8h0M545.3 394.8h0M549.4 413.5h0M550.0 393.2h0M544.5 391.5h0M550.0 408.0h0M554.3 388.8h0M552.1 406.5h0M549.0 408.8h0M548.8 377.8h0M553.2 396.0h0M551.4 401.2h0M551.9 396.0h0M544.6 395.0h0M547.5 394.0h0M551.0 376.2h0M548.1 405.8h0M551.4 398.8h0M554.0 399.2h0M545.7 399.8h0M548.5 396.8h0M552.1 389.5h0M551.4 380.8h0M550.1 419.2h0M550.1 422.4h0M550.1 431.4h0" stroke="#00c000" stroke-width="3.4" stroke-linecap="round"/>
<use href="#v12" fill="none" stroke="#333" stroke-width="0.55"/>
<line x1="543.6" y1="384.5" x2="556.6" y2="384.5" stroke="#000" stroke-width="1.45"/>
<line x1="544.6" y1="404.5" x2="555.6" y2="404.5" stroke="#000" stroke-width="1.45"/>
<line x1="543.5" y1="392.5" x2="556.7" y2="392.5" stroke="#e8261e" stroke-width="1.15"/>
<defs><path id="v13" d="M571.2,342.5 L571.2,343.5 L571.0,344.5 L570.8,345.5 L570.7,346.5 L570.5,347.5 L570.3,348.5 L570.2,349.5 L570.1,350.5 L569.7,351.5 L569.3,352.5 L569.2,353.5 L569.2,354.5 L569.2,355.5 L569.2,356.5 L569.3,357.5 L569.3,358.5 L569.3,359.5 L569.4,360.5 L569.4,361.5 L569.4,362.5 L569.5,363.5 L569.5,364.5 L569.5,365.5 L569.6,366.5 L569.6,367.5 L569.6,368.5 L569.6,369.5 L569.6,370.5 L569.6,371.5 L569.6,372.5 L569.6,373.5 L569.6,374.5 L569.6,375.5 L569.6,376.5 L569.6,377.5 L569.6,378.5 L569.6,379.5 L569.6,380.5 L569.6,381.5 L569.6,382.5 L569.6,383.5 L569.6,384.5 L569.6,385.5 L569.5,386.5 L569.3,387.5 L569.0,388.5 L568.7,389.5 L568.5,390.5 L568.3,391.5 L568.2,392.5 L568.1,393.5 L567.9,394.5 L567.6,395.5 L567.3,396.5 L566.9,397.5 L566.4,398.5 L566.0,399.5 L565.7,400.5 L565.4,401.5 L565.2,402.5 L565.2,403.5 L565.2,404.5 L565.2,405.5 L565.2,406.5 L565.2,407.5 L565.2,408.5 L565.2,409.5 L565.2,410.5 L565.2,411.5 L565.2,412.5 L565.2,413.5 L565.3,414.5 L565.5,415.5 L565.7,416.5 L565.9,417.5 L566.1,418.5 L566.2,419.5 L566.2,420.5 L566.5,421.5 L567.0,422.5 L567.7,423.5 L568.4,424.5 L568.9,425.5 L569.2,426.5 L569.4,427.5 L570.0,428.5 L570.5,429.5 L570.6,430.5 L570.7,431.5 L570.7,432.5 L570.8,433.5 L570.9,434.5 L571.0,435.5 L571.1,436.5 L571.2,437.5 L571.2,438.4 L571.2,438.4 L571.2,437.5 L571.3,436.5 L571.4,435.5 L571.5,434.5 L571.6,433.5 L571.7,432.5 L571.7,431.5 L571.8,430.5 L571.9,429.5 L572.4,428.5 L573.0,427.5 L573.2,426.5 L573.5,425.5 L574.0,424.5 L574.7,423.5 L575.4,422.5 L575.9,421.5 L576.2,420.5 L576.2,419.5 L576.3,418.5 L576.5,417.5 L576.7,416.5 L576.9,415.5 L577.1,414.5 L577.2,413.5 L577.2,412.5 L577.2,411.5 L577.2,410.5 L577.2,409.5 L577.2,408.5 L577.2,407.5 L577.2,406.5 L577.2,405.5 L577.2,404.5 L577.2,403.5 L577.2,402.5 L577.0,401.5 L576.7,400.5 L576.4,399.5 L576.0,398.5 L575.5,397.5 L575.1,396.5 L574.8,395.5 L574.5,394.5 L574.3,393.5 L574.2,392.5 L574.1,391.5 L573.9,390.5 L573.7,389.5 L573.4,388.5 L573.1,387.5 L572.9,386.5 L572.8,385.5 L572.8,384.5 L572.8,383.5 L572.8,382.5 L572.8,381.5 L572.8,380.5 L572.8,379.5 L572.8,378.5 L572.8,377.5 L572.8,376.5 L572.8,375.5 L572.8,374.5 L572.8,373.5 L572.8,372.5 L572.8,371.5 L572.8,370.5 L572.8,369.5 L572.8,368.5 L572.8,367.5 L572.8,366.5 L572.9,365.5 L572.9,364.5 L572.9,363.5 L573.0,362.5 L573.0,361.5 L573.0,360.5 L573.1,359.5 L573.1,358.5 L573.1,357.5 L573.2,356.5 L573.2,355.5 L573.2,354.5 L573.2,353.5 L573.1,352.5 L572.7,351.5 L572.3,350.5 L572.2,349.5 L572.1,348.5 L571.9,347.5 L571.7,346.5 L571.6,345.5 L571.4,344.5 L571.2,343.5 L571.2,342.5 Z"/></defs><use href="#v13" fill="#fff"/>
<line x1="571.2" y1="342.5" x2="571.2" y2="438.4" stroke="#333" stroke-width="0.7"/>
<path d="M572.6 406.5h0M569.1 416.5h0M575.3 409.8h0M568.6 420.8h0M572.4 409.8h0M576.1 403.8h0M570.6 404.8h0M572.1 422.8h0M570.3 393.0h0M566.5 403.2h0M573.7 408.0h0M574.5 400.5h0M571.6 421.8h0M567.2 411.0h0M572.4 360.0h0M569.9 391.5h0M573.3 420.2h0M570.9 369.5h0M570.6 387.5h0M571.3 353.8h0M570.7 393.2h0M570.5 379.0h0M572.2 357.0h0M571.8 413.5h0M570.5 369.5h0M570.8 369.0h0M570.7 360.0h0M570.6 381.5h0M570.8 409.8h0M569.7 402.5h0M574.2 405.0h0M569.2 393.5h0M569.9 402.8h0M567.3 415.0h0M567.0 419.0h0M570.6 405.2h0M573.1 394.0h0M567.7 411.8h0M572.4 403.2h0M570.1 357.0h0M573.6 407.8h0M570.4 402.0h0M568.7 403.8h0M575.2 419.2h0M566.2 402.8h0M573.8 399.0h0M569.1 394.8h0M571.6 379.0h0M569.0 408.5h0M573.9 408.5h0M572.7 424.2h0M574.2 400.8h0M574.1 421.8h0M572.1 413.8h0M574.9 404.0h0M573.5 408.5h0M570.4 385.5h0M571.5 390.5h0M568.1 406.5h0M572.1 379.5h0M572.2 362.0h0M572.0 414.5h0M571.6 427.5h0M572.4 353.8h0M575.0 399.8h0M567.7 416.2h0M570.0 357.8h0M574.1 415.0h0M570.5 385.5h0M573.4 397.5h0M575.0 413.2h0M572.3 424.5h0M566.7 417.2h0M572.2 353.8h0M569.4 408.2h0M570.9 370.2h0M571.2 395.8h0M568.2 401.5h0M570.6 363.5h0M570.4 370.2h0M567.8 400.0h0M571.6 415.8h0M572.6 402.0h0M570.2 386.5h0M570.8 363.0h0M569.5 397.2h0M572.8 393.5h0M571.1 354.0h0M569.4 398.5h0M568.3 412.8h0M570.3 358.0h0M570.7 425.5h0M572.1 368.5h0M576.0 409.5h0M572.9 395.2h0M570.5 358.0h0M571.4 415.5h0M570.1 415.2h0M567.6 419.2h0M567.9 408.5h0M571.9 381.0h0M574.2 400.5h0M572.2 391.5h0M572.3 420.8h0M571.6 386.5h0M573.0 423.2h0M570.2 401.2h0M571.7 365.8h0M570.7 374.8h0M570.3 357.0h0M571.0 398.5h0M571.1 377.5h0M567.0 414.0h0M571.2 371.2h0M574.7 420.5h0M566.9 406.2h0M575.4 419.2h0M571.5 420.5h0M571.9 398.2h0M576.1 415.2h0M571.3 403.2h0M571.4 393.8h0M568.9 405.2h0M575.4 401.8h0M570.7 386.5h0M572.9 393.2h0M572.7 393.2h0" stroke="#00c000" stroke-width="3.4" stroke-linecap="round"/>
<use href="#v13" fill="none" stroke="#333" stroke-width="0.55"/>
<line x1="568.2" y1="394.5" x2="574.2" y2="394.5" stroke="#000" stroke-width="1.45"/>
<line x1="565.2" y1="412.5" x2="577.2" y2="412.5" stroke="#000" stroke-width="1.45"/>
<line x1="565.2" y1="406.5" x2="577.2" y2="406.5" stroke="#e8261e" stroke-width="1.15"/>
<line x1="592.3" y1="400.2" x2="592.3" y2="431" stroke="#333" stroke-width="0.7"/>
<path d="M593.3 430.8h0M597.1 432.0h0M590.7 432.2h0M591.4 432.5h0M588.1 429.8h0M588.2 430.5h0M593.3 429.5h0M595.3 431.8h0M589.3 428.5h0M592.8 429.5h0M595.9 432.0h0M593.4 432.2h0M589.8 431.0h0M589.3 429.8h0M593.6 430.8h0M591.0 430.8h0M589.3 430.2h0M593.3 431.8h0M596.0 431.5h0M588.7 429.5h0M596.1 429.5h0M591.2 431.8h0M590.4 431.8h0M587.4 432.0h0M598.1 431.5h0M591.9 430.2h0M590.5 428.8h0M590.5 429.2h0M591.3 428.2h0M592.5 428.5h0M589.1 430.2h0M590.0 432.5h0M592.3 400.2h0M592.3 404.0h0M592.3 408.0h0M592.3 412.0h0M592.3 416.0h0M592.3 420.0h0M592.3 424.0h0M592.8 427.0h0" stroke="#00c000" stroke-width="3.4" stroke-linecap="round"/>
<line x1="586.3" y1="431.5" x2="598.3" y2="431.5" stroke="#000" stroke-width="1.45"/>
<line x1="588.3" y1="431.5" x2="596.3" y2="431.5" stroke="#9a2a1a" stroke-width="1.15"/>
<defs><path id="v14" d="M613.4,375.6 L613.3,376.6 L613.1,377.6 L612.9,378.6 L612.7,379.6 L612.6,380.6 L612.5,381.6 L612.4,382.6 L612.2,383.6 L612.0,384.6 L611.8,385.6 L611.7,386.6 L611.6,387.6 L611.6,388.6 L611.3,389.6 L611.0,390.6 L610.6,391.6 L610.1,392.6 L609.8,393.6 L609.5,394.6 L609.4,395.6 L609.1,396.6 L608.5,397.6 L608.0,398.6 L607.9,399.6 L607.7,400.6 L607.5,401.6 L607.2,402.6 L607.0,403.6 L606.9,404.6 L607.0,405.6 L607.3,406.6 L607.6,407.6 L607.9,408.6 L608.1,409.6 L608.2,410.6 L608.5,411.6 L609.1,412.6 L609.7,413.6 L610.2,414.6 L610.4,415.6 L610.6,416.6 L610.9,417.6 L611.3,418.6 L611.6,419.6 L611.6,420.6 L611.7,421.6 L611.8,422.6 L611.9,423.6 L612.1,424.6 L612.2,425.6 L612.3,426.6 L612.4,427.6 L612.4,428.6 L612.7,429.6 L613.0,430.6 L613.3,431.6 L613.4,432.5 L613.4,432.5 L613.5,431.6 L613.8,430.6 L614.1,429.6 L614.4,428.6 L614.4,427.6 L614.5,426.6 L614.6,425.6 L614.7,424.6 L614.9,423.6 L615.0,422.6 L615.1,421.6 L615.2,420.6 L615.2,419.6 L615.5,418.6 L615.9,417.6 L616.2,416.6 L616.4,415.6 L616.6,414.6 L617.1,413.6 L617.7,412.6 L618.3,411.6 L618.6,410.6 L618.7,409.6 L618.9,408.6 L619.2,407.6 L619.5,406.6 L619.8,405.6 L619.9,404.6 L619.8,403.6 L619.6,402.6 L619.3,401.6 L619.1,400.6 L618.9,399.6 L618.8,398.6 L618.3,397.6 L617.7,396.6 L617.4,395.6 L617.3,394.6 L617.0,393.6 L616.7,392.6 L616.2,391.6 L615.8,390.6 L615.5,389.6 L615.2,388.6 L615.2,387.6 L615.1,386.6 L615.0,385.6 L614.8,384.6 L614.6,383.6 L614.4,382.6 L614.3,381.6 L614.2,380.6 L614.1,379.6 L613.9,378.6 L613.7,377.6 L613.5,376.6 L613.4,375.6 Z"/></defs><use href="#v14" fill="#fff"/>
<line x1="613.4" y1="375.6" x2="613.4" y2="432.5" stroke="#333" stroke-width="0.7"/>
<path d="M616.2 405.5h0M616.6 411.0h0M617.7 398.5h0M616.2 405.8h0M617.1 411.2h0M612.2 398.0h0M614.2 410.0h0M612.2 411.0h0M612.5 422.5h0M612.3 410.2h0M613.6 384.0h0M612.8 386.8h0M610.1 399.5h0M610.8 394.0h0M611.4 414.8h0M610.9 393.8h0M613.5 418.5h0M616.1 413.8h0M612.2 404.0h0M611.0 401.2h0M618.4 406.5h0M616.3 404.2h0M614.7 417.0h0M613.9 408.8h0M613.0 390.5h0M613.1 415.0h0M611.2 409.0h0M610.3 406.2h0M615.8 412.2h0M613.5 383.0h0M614.8 390.2h0M611.0 394.5h0M613.8 417.2h0M613.4 382.0h0M611.6 414.0h0M611.6 411.0h0M612.3 402.8h0M613.2 387.0h0M614.8 404.8h0M609.7 405.2h0M611.2 406.8h0M612.0 417.8h0M610.2 412.0h0M611.7 405.8h0M615.5 403.2h0M610.0 412.8h0M614.0 416.8h0M614.1 391.0h0M612.6 413.0h0M611.9 416.5h0M610.6 403.0h0M612.3 413.8h0M617.3 397.2h0M613.0 402.0h0M610.5 409.5h0M614.7 413.0h0M616.8 404.0h0M611.6 416.2h0M613.4 423.0h0M614.8 412.0h0M613.9 423.2h0M610.7 397.0h0M610.9 401.8h0M613.7 396.5h0M612.2 404.2h0M610.4 411.2h0M612.8 402.8h0M617.2 407.0h0M608.1 406.5h0M611.9 406.5h0M614.2 402.2h0M615.4 396.2h0M612.1 400.8h0M608.3 405.2h0M618.1 399.5h0M612.9 392.0h0M613.2 411.8h0M617.0 407.2h0M613.0 414.5h0M608.7 400.2h0M610.2 410.8h0M609.2 403.2h0M613.0 411.0h0M613.8 391.5h0M612.9 390.0h0M615.8 398.5h0M610.4 406.8h0M612.9 399.8h0M612.6 414.0h0M609.7 411.2h0M614.7 392.0h0M608.9 400.8h0M612.9 395.5h0M613.0 390.0h0M613.1 427.2h0M611.6 400.5h0M616.0 393.5h0M610.7 398.2h0M608.7 402.8h0M609.8 403.5h0M609.4 404.0h0M613.4 415.8h0M610.7 408.0h0M612.9 386.0h0M607.7 404.2h0M616.2 394.8h0M610.5 398.8h0M612.0 413.2h0M613.7 405.5h0M608.2 404.0h0" stroke="#00c000" stroke-width="3.4" stroke-linecap="round"/>
<use href="#v14" fill="none" stroke="#333" stroke-width="0.55"/>
<line x1="607.9" y1="399.5" x2="618.9" y2="399.5" stroke="#000" stroke-width="1.45"/>
<line x1="608.2" y1="410.5" x2="618.6" y2="410.5" stroke="#000" stroke-width="1.45"/>
<line x1="606.9" y1="404.5" x2="619.9" y2="404.5" stroke="#e8261e" stroke-width="1.15"/>
<line x1="634.5" y1="395.4" x2="634.5" y2="431" stroke="#333" stroke-width="0.7"/>
<path d="M639.1 428.5h0M639.7 432.5h0M639.1 431.2h0M634.6 424.0h0M636.2 427.8h0M635.2 429.2h0M635.4 429.8h0M640.5 431.5h0M637.4 428.5h0M633.2 432.0h0M634.5 426.5h0M634.8 431.2h0M635.8 427.0h0M638.2 428.5h0M635.1 427.0h0M639.4 428.8h0M636.8 426.5h0M633.1 429.0h0M634.5 427.2h0M640.7 432.2h0M635.9 432.2h0M634.6 427.5h0M632.0 430.5h0M629.4 432.5h0M632.4 427.5h0M631.7 426.8h0M633.6 427.5h0M635.1 432.2h0M632.6 430.2h0M634.9 427.0h0M629.4 431.0h0M630.9 430.5h0M632.7 430.8h0M632.2 426.8h0M635.0 431.2h0M636.6 426.0h0M632.7 428.0h0M634.4 424.0h0M639.4 430.0h0M634.5 428.2h0M635.3 425.8h0M633.4 428.2h0M637.1 428.0h0M630.0 432.5h0M630.0 429.2h0M639.5 431.0h0M634.5 395.4h0M634.5 399.0h0M634.5 405.0h0M634.5 410.0h0M634.5 415.0h0M634.5 420.0h0" stroke="#00c000" stroke-width="3.4" stroke-linecap="round"/>
<line x1="628" y1="428.5" x2="641" y2="428.5" stroke="#000" stroke-width="1.45"/>
<line x1="628.5" y1="429.5" x2="640.5" y2="429.5" stroke="#e8261e" stroke-width="1.15"/>
<defs><path id="v15" d="M655.6,362.3 L655.5,363.3 L655.4,364.3 L655.2,365.3 L655.0,366.3 L654.8,367.3 L654.6,368.3 L654.6,369.3 L654.5,370.3 L654.4,371.3 L654.3,372.3 L654.1,373.3 L653.9,374.3 L653.7,375.3 L653.6,376.3 L653.5,377.3 L653.4,378.3 L653.2,379.3 L652.7,380.3 L652.0,381.3 L651.2,382.3 L650.7,383.3 L650.6,384.3 L650.5,385.3 L650.4,386.3 L650.3,387.3 L650.1,388.3 L650.0,389.3 L650.0,390.3 L649.9,391.3 L649.8,392.3 L649.7,393.3 L649.6,394.3 L649.5,395.3 L649.4,396.3 L649.4,397.3 L649.2,398.3 L648.9,399.3 L648.8,400.3 L648.9,401.3 L649.0,402.3 L649.0,403.3 L649.3,404.3 L649.8,405.3 L650.1,406.3 L650.2,407.3 L650.4,408.3 L650.8,409.3 L651.1,410.3 L651.4,411.3 L651.6,412.3 L651.6,413.3 L651.8,414.3 L652.1,415.3 L652.3,416.3 L652.5,417.3 L652.6,418.3 L652.7,419.3 L653.0,420.3 L653.4,421.3 L653.8,422.3 L654.0,423.3 L654.1,424.3 L654.2,425.3 L654.4,426.3 L654.7,427.3 L655.0,428.3 L655.3,429.3 L655.5,430.3 L655.6,431.3 L655.6,431.6 L655.6,431.6 L655.6,431.3 L655.7,430.3 L655.9,429.3 L656.2,428.3 L656.5,427.3 L656.8,426.3 L657.0,425.3 L657.1,424.3 L657.2,423.3 L657.4,422.3 L657.8,421.3 L658.2,420.3 L658.5,419.3 L658.6,418.3 L658.7,417.3 L658.9,416.3 L659.1,415.3 L659.4,414.3 L659.6,413.3 L659.6,412.3 L659.8,411.3 L660.1,410.3 L660.4,409.3 L660.8,408.3 L661.0,407.3 L661.1,406.3 L661.4,405.3 L661.9,404.3 L662.2,403.3 L662.2,402.3 L662.3,401.3 L662.4,400.3 L662.3,399.3 L662.0,398.3 L661.8,397.3 L661.8,396.3 L661.7,395.3 L661.6,394.3 L661.5,393.3 L661.4,392.3 L661.3,391.3 L661.2,390.3 L661.2,389.3 L661.1,388.3 L660.9,387.3 L660.8,386.3 L660.7,385.3 L660.6,384.3 L660.5,383.3 L660.0,382.3 L659.2,381.3 L658.5,380.3 L658.0,379.3 L657.8,378.3 L657.7,377.3 L657.6,376.3 L657.5,375.3 L657.3,374.3 L657.1,373.3 L656.9,372.3 L656.8,371.3 L656.7,370.3 L656.6,369.3 L656.6,368.3 L656.4,367.3 L656.2,366.3 L656.0,365.3 L655.8,364.3 L655.7,363.3 L655.6,362.3 Z"/></defs><use href="#v15" fill="#fff"/>
<line x1="655.6" y1="362.3" x2="655.6" y2="431.6" stroke="#333" stroke-width="0.7"/>
<path d="M651.2 404.5h0M659.6 402.2h0M655.7 411.2h0M654.1 402.8h0M651.0 399.2h0M656.7 404.5h0M654.4 389.8h0M655.1 406.8h0M657.6 419.5h0M652.8 411.5h0M654.8 379.5h0M657.7 393.0h0M656.0 411.0h0M656.4 403.0h0M655.7 375.0h0M654.9 386.8h0M655.7 370.8h0M653.3 415.8h0M649.9 401.0h0M652.2 392.5h0M657.1 412.8h0M654.0 415.0h0M657.5 406.0h0M660.3 398.5h0M653.1 402.5h0M655.4 406.0h0M656.7 386.8h0M655.5 376.5h0M649.6 400.2h0M650.8 403.2h0M653.8 403.2h0M656.6 374.2h0M654.5 378.2h0M652.7 398.2h0M655.3 399.2h0M656.1 400.8h0M652.8 390.2h0M654.9 405.0h0M660.4 399.0h0M655.4 370.8h0M650.2 400.2h0M654.7 407.5h0M652.6 391.0h0M653.9 420.2h0M657.1 410.5h0M656.8 415.0h0M656.1 392.2h0M653.3 416.8h0M656.7 412.2h0M659.7 386.0h0M650.8 390.5h0M655.7 389.0h0M655.8 374.0h0M653.8 396.0h0M656.7 407.5h0M657.1 420.0h0M658.4 412.8h0M655.5 412.2h0M655.4 378.8h0M661.1 402.2h0M656.5 403.5h0M656.3 380.2h0M654.7 375.2h0M656.2 376.0h0M656.0 418.0h0M656.7 380.5h0M657.4 385.0h0M660.5 404.2h0M653.3 384.5h0M651.5 391.2h0M656.2 418.5h0M655.5 381.8h0M658.3 381.2h0M650.6 392.8h0M654.0 406.8h0M658.9 403.2h0M655.8 379.2h0M654.4 418.8h0M657.2 388.2h0M656.6 377.5h0M659.2 409.5h0M656.2 411.2h0M656.0 396.8h0M661.1 402.8h0M655.6 384.0h0M652.9 396.2h0M658.0 384.5h0M657.9 401.0h0M655.4 388.8h0M652.6 384.2h0M656.8 383.2h0M656.1 412.0h0M651.9 408.5h0M651.5 398.8h0M652.7 399.0h0M659.6 388.5h0M652.5 399.8h0M653.2 397.8h0M654.8 409.2h0M656.2 411.8h0M656.8 403.5h0M650.4 401.2h0M656.6 409.0h0M655.6 387.2h0M656.3 419.0h0M656.0 400.0h0M655.6 378.8h0M657.1 395.8h0M652.0 393.0h0M653.9 412.2h0M655.0 387.2h0M656.5 418.2h0M652.2 383.5h0M650.7 398.2h0M652.0 387.5h0M658.1 413.0h0M656.6 413.2h0M655.0 375.5h0M652.4 411.0h0M658.9 398.0h0M654.1 388.5h0M657.4 402.8h0M658.1 384.0h0M654.2 380.0h0M652.7 391.0h0M654.0 396.5h0M658.6 406.2h0" stroke="#00c000" stroke-width="3.4" stroke-linecap="round"/>
<use href="#v15" fill="none" stroke="#333" stroke-width="0.55"/>
<line x1="650.1" y1="390.5" x2="661.1" y2="390.5" stroke="#000" stroke-width="1.45"/>
<line x1="650.4" y1="406.5" x2="660.8" y2="406.5" stroke="#000" stroke-width="1.45"/>
<line x1="648.8" y1="400.5" x2="662.4" y2="400.5" stroke="#e8261e" stroke-width="1.15"/>
</svg></body></html>
